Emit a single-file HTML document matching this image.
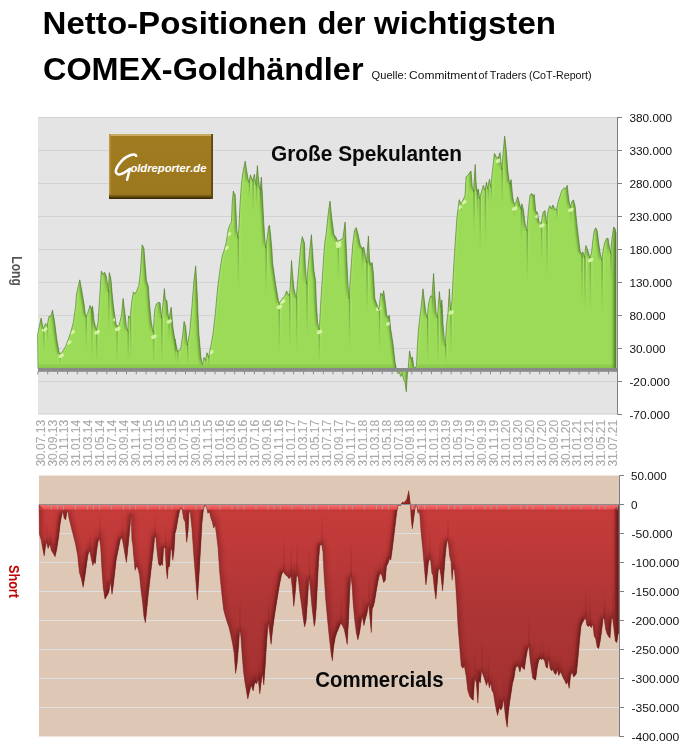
<!DOCTYPE html>
<html><head><meta charset="utf-8"><title>Netto-Positionen der wichtigsten COMEX-Goldhändler</title>
<style>
html,body{margin:0;padding:0;background:#fff;}
body{width:691px;height:755px;overflow:hidden;position:relative;font-family:"Liberation Sans",sans-serif;}
svg{position:absolute;left:0;top:0;}
text{font-family:"Liberation Sans",sans-serif;font-kerning:none;}
.ga{opacity:0.999;}
.xl{font-size:12px;fill:#a9a9a9;stroke:#a9a9a9;stroke-width:0.1px;}
.yl{font-size:10.7px;fill:#111;}
.t1{font-size:30.5px;font-weight:bold;fill:#000;}
.sub{font-size:11.3px;fill:#111;}
.ct{font-size:21px;font-weight:bold;fill:#0a0a0a;}
</style></head><body>
<svg width="691" height="755" viewBox="0 0 691 755">
<defs>
<clipPath id="ctop"><path d="M38,368.8 L37.6,334.5 L41.1,318.1 L43.3,329.0 L45.5,323.6 L47.0,325.7 L49.2,315.9 L50.7,317.0 L52.5,310.0 L54.7,322.5 L56.9,340.0 L59.5,354.2 L62.3,352.0 L65.6,346.5 L68.9,337.8 L71.1,331.2 L73.3,322.5 L75.5,307.2 L76.5,294.0 L79.8,279.8 L82.0,291.9 L84.2,305.0 L85.7,317.0 L87.5,313.7 L90.1,305.4 L91.4,309.3 L92.5,306.1 L94.0,320.3 L96.2,330.1 L98.0,322.5 L99.5,300.6 L101.3,271.1 L103.2,274.4 L104.5,272.2 L106.1,275.5 L107.2,282.0 L108.3,291.9 L109.3,272.6 L110.9,278.7 L112.0,291.9 L113.3,305.0 L114.8,315.9 L116.6,326.8 L119.2,324.7 L121.4,315.9 L123.1,298.4 L124.7,311.5 L126.4,326.8 L127.7,331.2 L128.6,315.9 L130.1,318.1 L131.6,302.8 L133.4,291.9 L135.1,294.0 L136.7,290.8 L138.9,285.3 L140.4,272.2 L142.1,244.8 L143.9,248.1 L145.4,267.8 L146.5,280.9 L148.3,286.4 L149.8,307.2 L151.3,322.5 L153.1,332.3 L154.8,309.3 L156.4,303.9 L158.5,302.3 L160.1,302.8 L161.4,318.1 L162.9,305.0 L164.4,288.6 L165.3,299.5 L166.9,300.6 L168.4,318.1 L169.9,313.7 L171.2,307.2 L172.8,326.8 L174.9,340.0 L175.0,339.0 L177.4,351.2 L180.5,349.7 L182.6,336.0 L184.1,321.3 L185.7,326.8 L187.2,345.1 L189.6,332.9 L191.8,308.5 L193.9,281.1 L195.7,265.9 L197.0,290.2 L198.8,332.9 L200.9,357.3 L202.4,364.9 L204.0,357.3 L205.5,360.4 L207.0,352.7 L208.5,357.3 L211.0,345.1 L213.1,332.9 L215.2,314.6 L217.7,287.2 L220.1,268.9 L222.3,255.2 L224.3,249.9 L226.2,242.6 L228.2,229.4 L229.6,225.4 L231.5,222.1 L232.2,202.9 L233.3,191.0 L234.2,193.7 L235.1,194.3 L235.9,209.6 L236.8,229.4 L237.8,238.0 L238.8,229.4 L240.1,202.9 L241.5,183.1 L243.1,171.2 L245.2,161.2 L246.5,169.9 L247.8,177.8 L248.9,182.4 L249.7,178.5 L250.5,174.9 L251.5,177.8 L252.6,180.7 L253.6,177.1 L254.4,174.2 L255.2,179.8 L256.0,184.7 L256.7,175.1 L257.4,165.6 L258.1,175.1 L259.2,185.7 L260.0,189.0 L260.8,183.1 L261.3,177.1 L262.1,189.7 L262.9,205.6 L263.7,221.5 L264.6,236.0 L265.6,247.9 L267.3,237.4 L268.6,226.8 L269.5,225.2 L270.6,234.7 L271.9,249.9 L272.6,262.8 L275.6,284.1 L278.7,302.4 L280.0,302.2 L282.6,298.2 L284.6,296.2 L286.6,290.9 L287.9,293.6 L289.3,295.6 L290.3,285.6 L291.5,260.5 L292.6,275.0 L293.9,288.3 L296.2,298.2 L297.5,283.0 L299.2,263.1 L300.9,244.6 L302.3,236.6 L303.6,240.6 L304.5,243.2 L305.2,263.1 L306.5,283.6 L307.8,269.7 L309.8,249.9 L311.4,234.6 L312.5,249.9 L313.8,269.7 L315.5,280.3 L316.4,304.2 L317.7,322.7 L318.7,328.7 L319.7,322.7 L321.1,296.2 L322.4,276.4 L323.7,256.5 L325.0,240.6 L326.1,234.5 L328.4,212.3 L330.0,201.1 L331.7,217.8 L333.9,234.5 L335.9,237.3 L337.8,241.5 L340.0,240.1 L342.8,238.7 L345.1,222.0 L346.2,245.7 L347.8,281.8 L349.0,298.5 L350.6,273.5 L352.6,245.7 L354.5,230.4 L356.2,227.6 L358.1,234.5 L360.1,244.3 L361.8,248.4 L363.7,247.1 L365.1,254.0 L366.5,262.4 L368.4,235.9 L369.5,259.6 L370.7,265.1 L372.1,262.4 L373.4,273.5 L374.8,298.5 L376.8,304.1 L379.0,309.7 L380.7,293.0 L382.3,295.8 L383.7,290.7 L385.1,301.3 L386.8,315.2 L387.9,318.0 L389.3,315.2 L390.7,329.1 L392.9,343.1 L395.1,362.5 L396.5,369.5 L397.9,373.7 L399.3,372.3 L400.7,376.5 L402.1,373.7 L403.5,379.2 L404.9,382.0 L406.3,391.8 L407.4,373.7 L408.2,368.1 L409.6,350.9 L411.0,358.4 L412.4,357.0 L413.8,366.7 L415.2,368.1 L416.6,365.3 L417.4,345.8 L418.5,329.1 L420.8,309.7 L423.0,288.8 L424.4,301.3 L425.8,312.4 L427.2,318.0 L428.5,304.1 L430.5,295.8 L431.9,297.1 L433.6,273.5 L434.7,293.0 L436.1,312.4 L437.4,318.0 L439.4,291.6 L440.8,306.9 L441.9,299.9 L443.0,323.6 L444.4,340.3 L445.2,345.8 L446.6,323.6 L448.0,312.4 L449.4,288.8 L450.5,309.7 L451.9,301.3 L453.3,273.5 L455.0,245.7 L456.9,217.8 L459.2,199.7 L460.8,203.9 L462.5,201.1 L465.0,195.6 L466.1,176.7 L467.8,175.4 L469.3,173.0 L471.0,171.0 L472.2,186.5 L473.5,191.4 L475.2,164.4 L476.2,184.0 L477.1,191.4 L478.4,189.0 L479.6,198.8 L481.6,191.4 L483.3,185.3 L485.0,190.2 L486.5,182.1 L487.7,189.0 L489.4,179.1 L490.7,186.5 L492.4,171.7 L494.4,153.3 L496.3,157.0 L498.1,158.2 L500.0,152.6 L501.7,169.3 L503.2,152.1 L504.7,136.1 L506.2,149.6 L507.9,171.7 L509.6,184.0 L511.1,179.6 L512.6,196.3 L514.0,203.7 L516.0,202.5 L517.7,196.8 L519.5,203.7 L520.9,208.6 L521.9,203.7 L523.4,209.9 L525.1,223.4 L526.8,230.8 L528.3,211.1 L530.0,195.1 L531.8,193.4 L533.2,196.3 L534.2,194.4 L535.7,211.1 L537.4,212.3 L539.1,222.2 L541.1,223.4 L543.1,212.3 L545.0,210.6 L546.5,223.4 L548.0,211.1 L549.7,205.7 L551.4,208.6 L552.9,205.0 L554.6,208.6 L556.4,209.9 L558.3,201.3 L560.3,195.1 L562.0,190.2 L564.5,187.7 L565.7,189.0 L567.2,185.3 L568.7,198.8 L570.1,207.4 L571.9,201.3 L573.6,200.0 L575.1,206.2 L576.8,223.4 L578.5,238.2 L580.0,250.5 L581.5,254.2 L582.9,251.7 L584.4,257.9 L585.9,245.5 L587.9,250.5 L589.8,257.9 L591.5,252.9 L592.8,240.6 L594.2,230.8 L595.7,227.8 L597.2,230.8 L598.7,243.1 L600.2,252.9 L601.6,260.3 L603.1,250.5 L604.6,243.1 L606.3,238.7 L608.0,238.2 L609.5,248.0 L610.5,252.9 L612.0,238.2 L613.7,227.1 L614.9,228.3 L616.1,233.2 L616.0,233.2 L616.0,368.8 Z"/></clipPath>
<clipPath id="cbot"><path d="M39,504.5 L39.4,534.2 L41.1,539.7 L42.7,548.4 L44.2,556.1 L45.5,546.2 L46.6,541.9 L48.1,548.4 L49.9,544.0 L51.4,550.6 L52.9,552.8 L55.1,556.7 L56.9,548.4 L58.6,537.5 L60.1,524.4 L61.2,517.8 L62.8,511.2 L64.1,517.8 L65.6,520.0 L66.7,513.4 L67.8,510.1 L68.9,517.8 L71.1,526.5 L73.3,535.3 L75.5,544.0 L77.6,555.0 L79.4,572.5 L81.4,579.0 L83.1,587.3 L84.9,576.8 L86.4,565.9 L87.9,555.0 L89.7,550.6 L91.4,559.3 L92.9,565.5 L94.0,561.5 L95.3,563.7 L96.7,550.6 L98.0,541.9 L99.5,538.6 L100.6,546.2 L101.7,565.9 L103.2,587.8 L105.0,599.1 L107.2,595.4 L108.9,592.1 L110.4,581.2 L112.0,594.3 L113.3,585.6 L114.8,572.5 L116.3,559.3 L118.1,550.6 L120.3,539.7 L122.0,537.5 L123.6,546.2 L125.1,555.0 L126.4,562.6 L127.7,550.6 L129.0,537.5 L130.3,524.4 L131.2,513.4 L131.9,539.7 L132.7,544.0 L133.8,557.2 L135.1,570.3 L136.7,565.9 L137.8,568.1 L139.5,574.7 L141.0,590.0 L142.6,603.1 L143.9,616.2 L145.4,622.8 L147.0,607.4 L148.3,594.3 L149.8,581.2 L151.3,568.1 L153.1,552.8 L154.8,536.4 L155.9,537.5 L157.0,550.6 L158.5,563.7 L160.1,565.9 L161.4,563.7 L162.5,565.5 L163.6,548.4 L165.1,547.3 L166.2,568.1 L167.3,579.0 L168.4,565.9 L169.5,567.0 L170.6,550.6 L171.7,548.4 L172.8,560.4 L174.1,550.6 L175.0,533.7 L176.5,527.9 L177.9,519.1 L179.4,511.8 L180.8,507.5 L182.3,510.4 L183.7,519.1 L185.2,522.0 L186.7,542.4 L188.1,530.8 L189.0,513.3 L190.1,510.4 L191.9,527.9 L193.9,557.0 L196.0,583.2 L197.4,600.1 L198.9,577.4 L200.6,548.3 L202.1,522.0 L203.5,508.9 L205.0,505.1 L206.5,506.9 L207.9,513.3 L209.4,511.8 L210.8,517.7 L212.3,522.0 L213.7,527.9 L215.2,525.0 L216.7,536.6 L218.1,548.3 L219.6,571.6 L221.6,591.9 L223.6,609.4 L225.1,615.2 L226.8,621.1 L228.9,626.9 L230.9,635.6 L232.7,644.4 L234.1,653.1 L235.6,673.5 L237.0,664.8 L238.5,647.3 L239.7,629.8 L240.8,635.6 L242.0,653.1 L243.4,670.6 L244.9,682.2 L246.4,691.0 L247.8,699.1 L249.6,691.0 L251.3,685.1 L253.1,691.0 L254.8,682.2 L256.6,683.7 L258.3,679.3 L259.8,693.9 L261.2,682.2 L262.4,673.5 L263.8,685.1 L265.3,664.8 L266.7,641.5 L268.2,622.5 L269.7,632.7 L271.1,644.4 L272.6,629.8 L274.6,615.2 L276.9,600.7 L279.3,586.1 L281.6,574.5 L283.3,571.6 L285.1,574.5 L287.1,575.9 L289.2,578.8 L290.9,575.9 L292.4,589.0 L293.8,606.5 L295.3,591.9 L296.7,574.5 L298.2,577.4 L299.7,591.9 L301.7,606.5 L303.2,618.2 L304.6,626.9 L306.1,621.1 L307.5,600.7 L309.0,577.4 L310.4,589.0 L311.9,606.5 L313.3,618.2 L314.2,626.3 L315.0,623.1 L316.2,608.8 L317.4,584.9 L318.6,561.1 L319.8,545.6 L321.7,544.4 L322.9,551.5 L324.1,575.4 L325.7,599.2 L327.4,618.3 L329.3,637.4 L331.2,654.1 L332.4,660.8 L333.6,646.9 L335.3,637.4 L336.9,632.6 L338.8,627.9 L340.8,623.1 L342.4,625.5 L344.1,629.0 L346.0,637.4 L347.2,644.5 L348.4,623.1 L349.6,594.5 L350.8,575.4 L352.0,584.9 L353.2,604.0 L354.8,620.7 L356.3,632.6 L357.9,639.8 L359.6,632.6 L361.0,623.1 L362.2,615.9 L363.9,625.5 L365.6,618.3 L367.0,613.5 L368.7,604.0 L369.8,615.9 L371.3,632.6 L372.2,608.8 L373.4,606.4 L374.6,601.6 L376.5,589.7 L378.2,580.2 L379.9,573.0 L381.8,575.4 L383.7,582.5 L385.3,580.2 L386.5,565.9 L388.0,563.5 L389.4,558.7 L390.8,559.9 L392.0,551.5 L393.2,542.0 L394.9,527.7 L396.6,513.4 L397.8,506.2 L398.9,505.0 L400.4,505.8 L401.3,503.8 L402.5,501.9 L403.7,502.7 L405.1,501.5 L406.8,499.1 L408.0,494.3 L408.7,490.7 L409.7,499.1 L410.4,504.3 L411.1,518.2 L412.3,528.9 L413.5,520.5 L414.7,511.0 L415.6,505.0 L416.8,506.2 L418.0,513.4 L419.0,509.8 L419.9,515.8 L421.1,532.5 L422.8,549.2 L424.2,565.9 L425.9,584.9 L427.1,575.4 L428.3,563.5 L429.5,558.7 L430.7,561.1 L431.9,573.0 L433.0,575.4 L434.2,587.3 L435.9,599.2 L437.1,584.9 L438.3,570.6 L439.7,568.2 L440.9,575.4 L442.6,590.9 L443.8,575.4 L445.0,558.7 L446.2,546.8 L447.4,539.6 L448.5,544.4 L449.7,556.3 L450.9,561.1 L452.1,580.2 L453.3,568.2 L454.5,570.6 L455.7,584.9 L456.9,604.0 L458.0,626.4 L459.4,643.6 L461.2,665.8 L462.9,668.2 L464.3,665.8 L466.1,675.6 L467.8,690.4 L469.8,696.5 L471.7,699.0 L473.2,700.2 L474.7,678.1 L476.4,683.0 L477.9,703.2 L478.9,680.5 L480.3,683.0 L481.6,670.7 L483.3,675.6 L485.0,680.5 L486.5,685.5 L488.0,680.5 L489.4,687.9 L490.9,683.0 L491.9,690.4 L493.4,692.9 L494.9,702.7 L496.3,710.1 L497.6,715.5 L499.3,707.6 L500.8,710.1 L502.2,707.6 L503.5,699.0 L504.7,710.1 L505.9,719.9 L507.2,727.3 L508.4,712.5 L509.6,702.7 L511.1,692.9 L512.6,683.0 L514.0,678.1 L515.5,668.2 L517.0,665.8 L518.5,667.0 L519.9,671.9 L521.4,665.8 L522.9,668.2 L524.4,669.5 L525.9,658.4 L527.3,651.0 L528.8,646.1 L530.0,658.4 L531.3,668.2 L532.7,678.1 L534.2,679.3 L535.7,680.1 L537.2,668.2 L538.6,660.9 L540.1,658.4 L541.6,659.6 L543.1,658.4 L544.6,660.9 L546.0,667.0 L547.5,668.2 L548.7,658.4 L550.0,668.2 L551.4,670.7 L552.9,669.5 L554.4,673.2 L555.9,674.4 L557.3,669.5 L558.8,675.6 L560.3,671.9 L561.8,674.4 L563.2,678.1 L564.7,680.5 L566.2,684.2 L567.7,681.8 L569.2,688.4 L570.6,675.6 L572.1,671.9 L573.6,676.9 L575.1,675.6 L576.5,673.2 L578.0,658.4 L579.5,641.2 L581.0,626.4 L582.4,622.7 L583.9,620.3 L585.4,617.8 L586.9,625.2 L588.3,626.4 L589.8,625.2 L591.3,627.7 L592.8,624.0 L594.2,636.3 L595.7,638.7 L597.2,647.3 L598.7,648.6 L600.2,641.2 L601.6,631.3 L603.1,619.0 L604.1,617.8 L605.6,628.9 L607.0,633.8 L608.5,636.3 L610.0,638.2 L611.5,619.0 L612.5,617.8 L613.9,628.9 L615.4,641.2 L616.9,642.4 L617.9,633.8 L618.5,633.8 L618.5,504.5 Z"/></clipPath>
<filter id="b0" x="-5%" y="-5%" width="110%" height="110%"><feGaussianBlur stdDeviation="0.9"/></filter>
<filter id="bc" x="-2%" y="-2%" width="104%" height="104%"><feGaussianBlur stdDeviation="0.55 0.3"/></filter>
<filter id="bh" x="-2%" y="-2%" width="104%" height="104%"><feGaussianBlur stdDeviation="0.65"/></filter>
<filter id="b1" x="-5%" y="-5%" width="110%" height="110%"><feGaussianBlur stdDeviation="1.3"/></filter>
<filter id="b2" x="-5%" y="-5%" width="110%" height="110%"><feGaussianBlur stdDeviation="2"/></filter>
<linearGradient id="gred" x1="0" y1="0" x2="0" y2="1">
<stop offset="0" stop-color="#c93d3b"/><stop offset="0.22" stop-color="#bf3a39"/><stop offset="0.5" stop-color="#ae3535"/><stop offset="0.75" stop-color="#a73232"/><stop offset="1" stop-color="#a13030"/></linearGradient>
<linearGradient id="gredtop" x1="0" y1="0" x2="0" y2="1">
<stop offset="0" stop-color="#f57070"/><stop offset="1" stop-color="#e24c4c"/></linearGradient>
<linearGradient id="crT" x1="0" y1="0" x2="0" y2="1"><stop offset="0" stop-color="#4f7d2b" stop-opacity="0.6"/><stop offset="1" stop-color="#6fa83f" stop-opacity="0"/></linearGradient>
<linearGradient id="crTl" x1="0" y1="0" x2="0" y2="1"><stop offset="0" stop-color="#b9ee80" stop-opacity="0.55"/><stop offset="1" stop-color="#b9ee80" stop-opacity="0"/></linearGradient>
<linearGradient id="crB" x1="0" y1="1" x2="0" y2="0"><stop offset="0" stop-color="#6a1a1a" stop-opacity="0.4"/><stop offset="1" stop-color="#8a2626" stop-opacity="0"/></linearGradient>
<linearGradient id="redge" x1="0" y1="0" x2="1" y2="0"><stop offset="0" stop-color="#4f7d2b" stop-opacity="0"/><stop offset="1" stop-color="#4f7d2b" stop-opacity="0.7"/></linearGradient>
<linearGradient id="redgeB" x1="0" y1="0" x2="1" y2="0"><stop offset="0" stop-color="#5a1414" stop-opacity="0"/><stop offset="1" stop-color="#5a1414" stop-opacity="0.75"/></linearGradient>
<linearGradient id="glogob" x1="0" y1="0" x2="0" y2="1"><stop offset="0" stop-color="#9b771d"/><stop offset="0.45" stop-color="#6a500f"/><stop offset="1" stop-color="#2e2003"/></linearGradient>
<linearGradient id="glogo" x1="0" y1="0" x2="0" y2="1">
<stop offset="0" stop-color="#a17c21"/><stop offset="1" stop-color="#9b771d"/></linearGradient>
</defs>
<rect width="691" height="755" fill="#fff"/>

<!-- title -->
<g class="ga">
<text x="42.6" y="34" class="t1" textLength="264.5" lengthAdjust="spacingAndGlyphs">Netto-Positionen</text>
<text x="317.5" y="34" class="t1" textLength="48" lengthAdjust="spacingAndGlyphs">der</text>
<text x="374" y="34" class="t1" textLength="182" lengthAdjust="spacingAndGlyphs">wichtigsten</text>
<text x="43" y="80.3" class="t1" textLength="320.5" lengthAdjust="spacingAndGlyphs">COMEX-Goldhändler</text>
<text x="371.6" y="78.7" class="sub" textLength="35.2" lengthAdjust="spacingAndGlyphs">Quelle:</text>
<text x="409.1" y="78.7" class="sub" textLength="67.9" lengthAdjust="spacingAndGlyphs">Commitment</text>
<text x="478.5" y="78.7" class="sub" textLength="8.9" lengthAdjust="spacingAndGlyphs">of</text>
<text x="489.7" y="78.7" class="sub" textLength="36.9" lengthAdjust="spacingAndGlyphs">Traders</text>
<text x="528.9" y="78.7" class="sub" textLength="62.7" lengthAdjust="spacingAndGlyphs">(CoT-Report)</text>


</g>
<!-- top plot -->
<rect x="38" y="117" width="579.5" height="297" fill="#e4e4e4"/>
<line x1="38" x2="617" y1="117.5" y2="117.5" stroke="#d3d3d3"/>
<line x1="38" x2="617" y1="414" y2="414" stroke="#d0d0d0"/>
<line x1="38" x2="617" y1="150.5" y2="150.5" stroke="#d3d3d3" stroke-width="1"/>
<line x1="38" x2="617" y1="183.5" y2="183.5" stroke="#d3d3d3" stroke-width="1"/>
<line x1="38" x2="617" y1="216.5" y2="216.5" stroke="#d3d3d3" stroke-width="1"/>
<line x1="38" x2="617" y1="249.5" y2="249.5" stroke="#d3d3d3" stroke-width="1"/>
<line x1="38" x2="617" y1="282.5" y2="282.5" stroke="#d3d3d3" stroke-width="1"/>
<line x1="38" x2="617" y1="315.5" y2="315.5" stroke="#d3d3d3" stroke-width="1"/>
<line x1="38" x2="617" y1="348.5" y2="348.5" stroke="#d3d3d3" stroke-width="1"/>
<line x1="38" x2="617" y1="381.5" y2="381.5" stroke="#d3d3d3" stroke-width="1"/>

<path d="M38,368.8 L37.6,334.5 L41.1,318.1 L43.3,329.0 L45.5,323.6 L47.0,325.7 L49.2,315.9 L50.7,317.0 L52.5,310.0 L54.7,322.5 L56.9,340.0 L59.5,354.2 L62.3,352.0 L65.6,346.5 L68.9,337.8 L71.1,331.2 L73.3,322.5 L75.5,307.2 L76.5,294.0 L79.8,279.8 L82.0,291.9 L84.2,305.0 L85.7,317.0 L87.5,313.7 L90.1,305.4 L91.4,309.3 L92.5,306.1 L94.0,320.3 L96.2,330.1 L98.0,322.5 L99.5,300.6 L101.3,271.1 L103.2,274.4 L104.5,272.2 L106.1,275.5 L107.2,282.0 L108.3,291.9 L109.3,272.6 L110.9,278.7 L112.0,291.9 L113.3,305.0 L114.8,315.9 L116.6,326.8 L119.2,324.7 L121.4,315.9 L123.1,298.4 L124.7,311.5 L126.4,326.8 L127.7,331.2 L128.6,315.9 L130.1,318.1 L131.6,302.8 L133.4,291.9 L135.1,294.0 L136.7,290.8 L138.9,285.3 L140.4,272.2 L142.1,244.8 L143.9,248.1 L145.4,267.8 L146.5,280.9 L148.3,286.4 L149.8,307.2 L151.3,322.5 L153.1,332.3 L154.8,309.3 L156.4,303.9 L158.5,302.3 L160.1,302.8 L161.4,318.1 L162.9,305.0 L164.4,288.6 L165.3,299.5 L166.9,300.6 L168.4,318.1 L169.9,313.7 L171.2,307.2 L172.8,326.8 L174.9,340.0 L175.0,339.0 L177.4,351.2 L180.5,349.7 L182.6,336.0 L184.1,321.3 L185.7,326.8 L187.2,345.1 L189.6,332.9 L191.8,308.5 L193.9,281.1 L195.7,265.9 L197.0,290.2 L198.8,332.9 L200.9,357.3 L202.4,364.9 L204.0,357.3 L205.5,360.4 L207.0,352.7 L208.5,357.3 L211.0,345.1 L213.1,332.9 L215.2,314.6 L217.7,287.2 L220.1,268.9 L222.3,255.2 L224.3,249.9 L226.2,242.6 L228.2,229.4 L229.6,225.4 L231.5,222.1 L232.2,202.9 L233.3,191.0 L234.2,193.7 L235.1,194.3 L235.9,209.6 L236.8,229.4 L237.8,238.0 L238.8,229.4 L240.1,202.9 L241.5,183.1 L243.1,171.2 L245.2,161.2 L246.5,169.9 L247.8,177.8 L248.9,182.4 L249.7,178.5 L250.5,174.9 L251.5,177.8 L252.6,180.7 L253.6,177.1 L254.4,174.2 L255.2,179.8 L256.0,184.7 L256.7,175.1 L257.4,165.6 L258.1,175.1 L259.2,185.7 L260.0,189.0 L260.8,183.1 L261.3,177.1 L262.1,189.7 L262.9,205.6 L263.7,221.5 L264.6,236.0 L265.6,247.9 L267.3,237.4 L268.6,226.8 L269.5,225.2 L270.6,234.7 L271.9,249.9 L272.6,262.8 L275.6,284.1 L278.7,302.4 L280.0,302.2 L282.6,298.2 L284.6,296.2 L286.6,290.9 L287.9,293.6 L289.3,295.6 L290.3,285.6 L291.5,260.5 L292.6,275.0 L293.9,288.3 L296.2,298.2 L297.5,283.0 L299.2,263.1 L300.9,244.6 L302.3,236.6 L303.6,240.6 L304.5,243.2 L305.2,263.1 L306.5,283.6 L307.8,269.7 L309.8,249.9 L311.4,234.6 L312.5,249.9 L313.8,269.7 L315.5,280.3 L316.4,304.2 L317.7,322.7 L318.7,328.7 L319.7,322.7 L321.1,296.2 L322.4,276.4 L323.7,256.5 L325.0,240.6 L326.1,234.5 L328.4,212.3 L330.0,201.1 L331.7,217.8 L333.9,234.5 L335.9,237.3 L337.8,241.5 L340.0,240.1 L342.8,238.7 L345.1,222.0 L346.2,245.7 L347.8,281.8 L349.0,298.5 L350.6,273.5 L352.6,245.7 L354.5,230.4 L356.2,227.6 L358.1,234.5 L360.1,244.3 L361.8,248.4 L363.7,247.1 L365.1,254.0 L366.5,262.4 L368.4,235.9 L369.5,259.6 L370.7,265.1 L372.1,262.4 L373.4,273.5 L374.8,298.5 L376.8,304.1 L379.0,309.7 L380.7,293.0 L382.3,295.8 L383.7,290.7 L385.1,301.3 L386.8,315.2 L387.9,318.0 L389.3,315.2 L390.7,329.1 L392.9,343.1 L395.1,362.5 L396.5,369.5 L397.9,373.7 L399.3,372.3 L400.7,376.5 L402.1,373.7 L403.5,379.2 L404.9,382.0 L406.3,391.8 L407.4,373.7 L408.2,368.1 L409.6,350.9 L411.0,358.4 L412.4,357.0 L413.8,366.7 L415.2,368.1 L416.6,365.3 L417.4,345.8 L418.5,329.1 L420.8,309.7 L423.0,288.8 L424.4,301.3 L425.8,312.4 L427.2,318.0 L428.5,304.1 L430.5,295.8 L431.9,297.1 L433.6,273.5 L434.7,293.0 L436.1,312.4 L437.4,318.0 L439.4,291.6 L440.8,306.9 L441.9,299.9 L443.0,323.6 L444.4,340.3 L445.2,345.8 L446.6,323.6 L448.0,312.4 L449.4,288.8 L450.5,309.7 L451.9,301.3 L453.3,273.5 L455.0,245.7 L456.9,217.8 L459.2,199.7 L460.8,203.9 L462.5,201.1 L465.0,195.6 L466.1,176.7 L467.8,175.4 L469.3,173.0 L471.0,171.0 L472.2,186.5 L473.5,191.4 L475.2,164.4 L476.2,184.0 L477.1,191.4 L478.4,189.0 L479.6,198.8 L481.6,191.4 L483.3,185.3 L485.0,190.2 L486.5,182.1 L487.7,189.0 L489.4,179.1 L490.7,186.5 L492.4,171.7 L494.4,153.3 L496.3,157.0 L498.1,158.2 L500.0,152.6 L501.7,169.3 L503.2,152.1 L504.7,136.1 L506.2,149.6 L507.9,171.7 L509.6,184.0 L511.1,179.6 L512.6,196.3 L514.0,203.7 L516.0,202.5 L517.7,196.8 L519.5,203.7 L520.9,208.6 L521.9,203.7 L523.4,209.9 L525.1,223.4 L526.8,230.8 L528.3,211.1 L530.0,195.1 L531.8,193.4 L533.2,196.3 L534.2,194.4 L535.7,211.1 L537.4,212.3 L539.1,222.2 L541.1,223.4 L543.1,212.3 L545.0,210.6 L546.5,223.4 L548.0,211.1 L549.7,205.7 L551.4,208.6 L552.9,205.0 L554.6,208.6 L556.4,209.9 L558.3,201.3 L560.3,195.1 L562.0,190.2 L564.5,187.7 L565.7,189.0 L567.2,185.3 L568.7,198.8 L570.1,207.4 L571.9,201.3 L573.6,200.0 L575.1,206.2 L576.8,223.4 L578.5,238.2 L580.0,250.5 L581.5,254.2 L582.9,251.7 L584.4,257.9 L585.9,245.5 L587.9,250.5 L589.8,257.9 L591.5,252.9 L592.8,240.6 L594.2,230.8 L595.7,227.8 L597.2,230.8 L598.7,243.1 L600.2,252.9 L601.6,260.3 L603.1,250.5 L604.6,243.1 L606.3,238.7 L608.0,238.2 L609.5,248.0 L610.5,252.9 L612.0,238.2 L613.7,227.1 L614.9,228.3 L616.1,233.2 L616.0,233.2 L616.0,368.8 Z" fill="#9cdb58"/>
<g clip-path="url(#ctop)">
<g filter="url(#bc)">
<rect x="43.1" y="328.0" width="1.7" height="24.0" fill="url(#crT)"/>
<rect x="44.4" y="328.0" width="1.6" height="19.2" fill="url(#crTl)"/>
<rect x="46.8" y="324.7" width="1.7" height="16.7" fill="url(#crT)"/>
<rect x="48.1" y="324.7" width="1.6" height="13.4" fill="url(#crTl)"/>
<rect x="59.3" y="353.2" width="1.7" height="11.8" fill="url(#crT)"/>
<rect x="60.6" y="353.2" width="1.6" height="9.4" fill="url(#crTl)"/>
<rect x="85.5" y="316.0" width="1.7" height="36.1" fill="url(#crT)"/>
<rect x="86.8" y="316.0" width="1.6" height="28.9" fill="url(#crTl)"/>
<rect x="91.2" y="308.3" width="1.7" height="55.0" fill="url(#crT)"/>
<rect x="92.5" y="308.3" width="1.6" height="44.0" fill="url(#crTl)"/>
<rect x="96.0" y="329.1" width="1.7" height="35.9" fill="url(#crT)"/>
<rect x="97.3" y="329.1" width="1.6" height="28.7" fill="url(#crTl)"/>
<rect x="108.1" y="290.9" width="1.7" height="42.5" fill="url(#crT)"/>
<rect x="109.4" y="290.9" width="1.6" height="34.0" fill="url(#crTl)"/>
<rect x="116.4" y="325.8" width="1.7" height="39.2" fill="url(#crT)"/>
<rect x="117.7" y="325.8" width="1.6" height="31.4" fill="url(#crTl)"/>
<rect x="127.5" y="330.2" width="1.7" height="34.8" fill="url(#crT)"/>
<rect x="128.8" y="330.2" width="1.6" height="27.8" fill="url(#crTl)"/>
<rect x="129.9" y="317.1" width="1.7" height="43.3" fill="url(#crT)"/>
<rect x="131.2" y="317.1" width="1.6" height="34.7" fill="url(#crTl)"/>
<rect x="152.9" y="331.3" width="1.7" height="33.7" fill="url(#crT)"/>
<rect x="154.2" y="331.3" width="1.6" height="27.0" fill="url(#crTl)"/>
<rect x="161.2" y="317.1" width="1.7" height="47.9" fill="url(#crT)"/>
<rect x="162.5" y="317.1" width="1.6" height="38.3" fill="url(#crTl)"/>
<rect x="168.2" y="317.1" width="1.7" height="24.0" fill="url(#crT)"/>
<rect x="169.5" y="317.1" width="1.6" height="19.2" fill="url(#crTl)"/>
<rect x="174.7" y="339.0" width="1.7" height="26.0" fill="url(#crT)"/>
<rect x="176.0" y="339.0" width="1.6" height="20.8" fill="url(#crTl)"/>
<rect x="177.2" y="350.2" width="1.7" height="14.8" fill="url(#crT)"/>
<rect x="178.5" y="350.2" width="1.6" height="11.8" fill="url(#crTl)"/>
<rect x="187.0" y="344.1" width="1.7" height="20.9" fill="url(#crT)"/>
<rect x="188.3" y="344.1" width="1.6" height="16.7" fill="url(#crTl)"/>
<rect x="205.3" y="359.4" width="1.7" height="5.6" fill="url(#crT)"/>
<rect x="206.6" y="359.4" width="1.6" height="4.5" fill="url(#crTl)"/>
<rect x="208.3" y="356.3" width="1.7" height="8.7" fill="url(#crT)"/>
<rect x="209.6" y="356.3" width="1.6" height="7.0" fill="url(#crTl)"/>
<rect x="237.6" y="237.0" width="1.7" height="55.0" fill="url(#crT)"/>
<rect x="238.9" y="237.0" width="1.6" height="44.0" fill="url(#crTl)"/>
<rect x="248.7" y="181.4" width="1.7" height="18.0" fill="url(#crT)"/>
<rect x="250.0" y="181.4" width="1.6" height="14.4" fill="url(#crTl)"/>
<rect x="252.4" y="179.7" width="1.7" height="33.2" fill="url(#crT)"/>
<rect x="253.7" y="179.7" width="1.6" height="26.6" fill="url(#crTl)"/>
<rect x="255.8" y="183.7" width="1.7" height="23.1" fill="url(#crT)"/>
<rect x="257.1" y="183.7" width="1.6" height="18.5" fill="url(#crTl)"/>
<rect x="259.8" y="188.0" width="1.7" height="26.2" fill="url(#crT)"/>
<rect x="261.1" y="188.0" width="1.6" height="20.9" fill="url(#crTl)"/>
<rect x="265.4" y="246.9" width="1.7" height="49.9" fill="url(#crT)"/>
<rect x="266.7" y="246.9" width="1.6" height="40.0" fill="url(#crTl)"/>
<rect x="278.5" y="301.4" width="1.7" height="55.0" fill="url(#crT)"/>
<rect x="279.8" y="301.4" width="1.6" height="44.0" fill="url(#crTl)"/>
<rect x="289.1" y="294.6" width="1.7" height="55.0" fill="url(#crT)"/>
<rect x="290.4" y="294.6" width="1.6" height="44.0" fill="url(#crTl)"/>
<rect x="296.0" y="297.2" width="1.7" height="55.0" fill="url(#crT)"/>
<rect x="297.3" y="297.2" width="1.6" height="44.0" fill="url(#crTl)"/>
<rect x="306.3" y="282.6" width="1.7" height="55.0" fill="url(#crT)"/>
<rect x="307.6" y="282.6" width="1.6" height="44.0" fill="url(#crTl)"/>
<rect x="318.5" y="327.7" width="1.7" height="37.3" fill="url(#crT)"/>
<rect x="319.8" y="327.7" width="1.6" height="29.8" fill="url(#crTl)"/>
<rect x="337.6" y="240.5" width="1.7" height="42.9" fill="url(#crT)"/>
<rect x="338.9" y="240.5" width="1.6" height="34.3" fill="url(#crTl)"/>
<rect x="348.8" y="297.5" width="1.7" height="55.0" fill="url(#crT)"/>
<rect x="350.1" y="297.5" width="1.6" height="44.0" fill="url(#crTl)"/>
<rect x="361.6" y="247.4" width="1.7" height="27.5" fill="url(#crT)"/>
<rect x="362.9" y="247.4" width="1.6" height="22.0" fill="url(#crTl)"/>
<rect x="366.3" y="261.4" width="1.7" height="55.0" fill="url(#crT)"/>
<rect x="367.6" y="261.4" width="1.6" height="44.0" fill="url(#crTl)"/>
<rect x="378.8" y="308.7" width="1.7" height="41.8" fill="url(#crT)"/>
<rect x="380.1" y="308.7" width="1.6" height="33.4" fill="url(#crTl)"/>
<rect x="382.1" y="294.8" width="1.7" height="11.2" fill="url(#crT)"/>
<rect x="383.4" y="294.8" width="1.6" height="9.0" fill="url(#crTl)"/>
<rect x="410.8" y="357.4" width="1.7" height="7.6" fill="url(#crT)"/>
<rect x="412.1" y="357.4" width="1.6" height="6.1" fill="url(#crTl)"/>
<rect x="427.0" y="317.0" width="1.7" height="48.0" fill="url(#crT)"/>
<rect x="428.3" y="317.0" width="1.6" height="38.4" fill="url(#crTl)"/>
<rect x="431.7" y="296.1" width="1.7" height="18.3" fill="url(#crT)"/>
<rect x="433.0" y="296.1" width="1.6" height="14.6" fill="url(#crTl)"/>
<rect x="437.2" y="317.0" width="1.7" height="48.0" fill="url(#crT)"/>
<rect x="438.5" y="317.0" width="1.6" height="38.4" fill="url(#crTl)"/>
<rect x="440.6" y="305.9" width="1.7" height="39.8" fill="url(#crT)"/>
<rect x="441.9" y="305.9" width="1.6" height="31.9" fill="url(#crTl)"/>
<rect x="445.0" y="344.8" width="1.7" height="20.2" fill="url(#crT)"/>
<rect x="446.3" y="344.8" width="1.6" height="16.2" fill="url(#crTl)"/>
<rect x="450.3" y="308.7" width="1.7" height="46.0" fill="url(#crT)"/>
<rect x="451.6" y="308.7" width="1.6" height="36.8" fill="url(#crTl)"/>
<rect x="460.6" y="202.9" width="1.7" height="10.0" fill="url(#crT)"/>
<rect x="461.9" y="202.9" width="1.6" height="8.0" fill="url(#crTl)"/>
<rect x="473.3" y="190.4" width="1.7" height="44.9" fill="url(#crT)"/>
<rect x="474.6" y="190.4" width="1.6" height="35.9" fill="url(#crTl)"/>
<rect x="476.9" y="190.4" width="1.7" height="27.1" fill="url(#crT)"/>
<rect x="478.2" y="190.4" width="1.6" height="21.6" fill="url(#crTl)"/>
<rect x="479.4" y="197.8" width="1.7" height="55.0" fill="url(#crT)"/>
<rect x="480.7" y="197.8" width="1.6" height="44.0" fill="url(#crTl)"/>
<rect x="484.8" y="189.2" width="1.7" height="55.0" fill="url(#crT)"/>
<rect x="486.1" y="189.2" width="1.6" height="44.0" fill="url(#crTl)"/>
<rect x="487.5" y="188.0" width="1.7" height="15.2" fill="url(#crT)"/>
<rect x="488.8" y="188.0" width="1.6" height="12.1" fill="url(#crTl)"/>
<rect x="490.5" y="185.5" width="1.7" height="16.3" fill="url(#crT)"/>
<rect x="491.8" y="185.5" width="1.6" height="13.0" fill="url(#crTl)"/>
<rect x="497.9" y="157.2" width="1.7" height="10.8" fill="url(#crT)"/>
<rect x="499.2" y="157.2" width="1.6" height="8.6" fill="url(#crTl)"/>
<rect x="501.5" y="168.3" width="1.7" height="36.7" fill="url(#crT)"/>
<rect x="502.8" y="168.3" width="1.6" height="29.4" fill="url(#crTl)"/>
<rect x="509.4" y="183.0" width="1.7" height="10.0" fill="url(#crT)"/>
<rect x="510.7" y="183.0" width="1.6" height="8.0" fill="url(#crTl)"/>
<rect x="513.8" y="202.7" width="1.7" height="15.2" fill="url(#crT)"/>
<rect x="515.1" y="202.7" width="1.6" height="12.1" fill="url(#crTl)"/>
<rect x="520.7" y="207.6" width="1.7" height="33.4" fill="url(#crT)"/>
<rect x="522.0" y="207.6" width="1.6" height="26.8" fill="url(#crTl)"/>
<rect x="526.6" y="229.8" width="1.7" height="55.0" fill="url(#crT)"/>
<rect x="527.9" y="229.8" width="1.6" height="44.0" fill="url(#crTl)"/>
<rect x="540.9" y="222.4" width="1.7" height="40.5" fill="url(#crT)"/>
<rect x="542.2" y="222.4" width="1.6" height="32.4" fill="url(#crTl)"/>
<rect x="546.3" y="222.4" width="1.7" height="55.0" fill="url(#crT)"/>
<rect x="547.6" y="222.4" width="1.6" height="44.0" fill="url(#crTl)"/>
<rect x="556.2" y="208.9" width="1.7" height="10.8" fill="url(#crT)"/>
<rect x="557.5" y="208.9" width="1.6" height="8.6" fill="url(#crTl)"/>
<rect x="569.9" y="206.4" width="1.7" height="16.3" fill="url(#crT)"/>
<rect x="571.2" y="206.4" width="1.6" height="13.0" fill="url(#crTl)"/>
<rect x="581.3" y="253.2" width="1.7" height="51.5" fill="url(#crT)"/>
<rect x="582.6" y="253.2" width="1.6" height="41.2" fill="url(#crTl)"/>
<rect x="584.2" y="256.9" width="1.7" height="55.0" fill="url(#crT)"/>
<rect x="585.5" y="256.9" width="1.6" height="44.0" fill="url(#crTl)"/>
<rect x="589.6" y="256.9" width="1.7" height="55.0" fill="url(#crT)"/>
<rect x="590.9" y="256.9" width="1.6" height="44.0" fill="url(#crTl)"/>
<rect x="601.4" y="259.3" width="1.7" height="55.0" fill="url(#crT)"/>
<rect x="602.7" y="259.3" width="1.6" height="44.0" fill="url(#crTl)"/>
<rect x="610.3" y="251.9" width="1.7" height="32.3" fill="url(#crT)"/>
<rect x="611.6" y="251.9" width="1.6" height="25.9" fill="url(#crTl)"/>
</g>
<rect x="611" y="117" width="5.2" height="252" fill="url(#redge)"/>
<path d="M-20,-20 H720 V780 H-20 Z M38,368.8 L37.6,334.5 L41.1,318.1 L43.3,329.0 L45.5,323.6 L47.0,325.7 L49.2,315.9 L50.7,317.0 L52.5,310.0 L54.7,322.5 L56.9,340.0 L59.5,354.2 L62.3,352.0 L65.6,346.5 L68.9,337.8 L71.1,331.2 L73.3,322.5 L75.5,307.2 L76.5,294.0 L79.8,279.8 L82.0,291.9 L84.2,305.0 L85.7,317.0 L87.5,313.7 L90.1,305.4 L91.4,309.3 L92.5,306.1 L94.0,320.3 L96.2,330.1 L98.0,322.5 L99.5,300.6 L101.3,271.1 L103.2,274.4 L104.5,272.2 L106.1,275.5 L107.2,282.0 L108.3,291.9 L109.3,272.6 L110.9,278.7 L112.0,291.9 L113.3,305.0 L114.8,315.9 L116.6,326.8 L119.2,324.7 L121.4,315.9 L123.1,298.4 L124.7,311.5 L126.4,326.8 L127.7,331.2 L128.6,315.9 L130.1,318.1 L131.6,302.8 L133.4,291.9 L135.1,294.0 L136.7,290.8 L138.9,285.3 L140.4,272.2 L142.1,244.8 L143.9,248.1 L145.4,267.8 L146.5,280.9 L148.3,286.4 L149.8,307.2 L151.3,322.5 L153.1,332.3 L154.8,309.3 L156.4,303.9 L158.5,302.3 L160.1,302.8 L161.4,318.1 L162.9,305.0 L164.4,288.6 L165.3,299.5 L166.9,300.6 L168.4,318.1 L169.9,313.7 L171.2,307.2 L172.8,326.8 L174.9,340.0 L175.0,339.0 L177.4,351.2 L180.5,349.7 L182.6,336.0 L184.1,321.3 L185.7,326.8 L187.2,345.1 L189.6,332.9 L191.8,308.5 L193.9,281.1 L195.7,265.9 L197.0,290.2 L198.8,332.9 L200.9,357.3 L202.4,364.9 L204.0,357.3 L205.5,360.4 L207.0,352.7 L208.5,357.3 L211.0,345.1 L213.1,332.9 L215.2,314.6 L217.7,287.2 L220.1,268.9 L222.3,255.2 L224.3,249.9 L226.2,242.6 L228.2,229.4 L229.6,225.4 L231.5,222.1 L232.2,202.9 L233.3,191.0 L234.2,193.7 L235.1,194.3 L235.9,209.6 L236.8,229.4 L237.8,238.0 L238.8,229.4 L240.1,202.9 L241.5,183.1 L243.1,171.2 L245.2,161.2 L246.5,169.9 L247.8,177.8 L248.9,182.4 L249.7,178.5 L250.5,174.9 L251.5,177.8 L252.6,180.7 L253.6,177.1 L254.4,174.2 L255.2,179.8 L256.0,184.7 L256.7,175.1 L257.4,165.6 L258.1,175.1 L259.2,185.7 L260.0,189.0 L260.8,183.1 L261.3,177.1 L262.1,189.7 L262.9,205.6 L263.7,221.5 L264.6,236.0 L265.6,247.9 L267.3,237.4 L268.6,226.8 L269.5,225.2 L270.6,234.7 L271.9,249.9 L272.6,262.8 L275.6,284.1 L278.7,302.4 L280.0,302.2 L282.6,298.2 L284.6,296.2 L286.6,290.9 L287.9,293.6 L289.3,295.6 L290.3,285.6 L291.5,260.5 L292.6,275.0 L293.9,288.3 L296.2,298.2 L297.5,283.0 L299.2,263.1 L300.9,244.6 L302.3,236.6 L303.6,240.6 L304.5,243.2 L305.2,263.1 L306.5,283.6 L307.8,269.7 L309.8,249.9 L311.4,234.6 L312.5,249.9 L313.8,269.7 L315.5,280.3 L316.4,304.2 L317.7,322.7 L318.7,328.7 L319.7,322.7 L321.1,296.2 L322.4,276.4 L323.7,256.5 L325.0,240.6 L326.1,234.5 L328.4,212.3 L330.0,201.1 L331.7,217.8 L333.9,234.5 L335.9,237.3 L337.8,241.5 L340.0,240.1 L342.8,238.7 L345.1,222.0 L346.2,245.7 L347.8,281.8 L349.0,298.5 L350.6,273.5 L352.6,245.7 L354.5,230.4 L356.2,227.6 L358.1,234.5 L360.1,244.3 L361.8,248.4 L363.7,247.1 L365.1,254.0 L366.5,262.4 L368.4,235.9 L369.5,259.6 L370.7,265.1 L372.1,262.4 L373.4,273.5 L374.8,298.5 L376.8,304.1 L379.0,309.7 L380.7,293.0 L382.3,295.8 L383.7,290.7 L385.1,301.3 L386.8,315.2 L387.9,318.0 L389.3,315.2 L390.7,329.1 L392.9,343.1 L395.1,362.5 L396.5,369.5 L397.9,373.7 L399.3,372.3 L400.7,376.5 L402.1,373.7 L403.5,379.2 L404.9,382.0 L406.3,391.8 L407.4,373.7 L408.2,368.1 L409.6,350.9 L411.0,358.4 L412.4,357.0 L413.8,366.7 L415.2,368.1 L416.6,365.3 L417.4,345.8 L418.5,329.1 L420.8,309.7 L423.0,288.8 L424.4,301.3 L425.8,312.4 L427.2,318.0 L428.5,304.1 L430.5,295.8 L431.9,297.1 L433.6,273.5 L434.7,293.0 L436.1,312.4 L437.4,318.0 L439.4,291.6 L440.8,306.9 L441.9,299.9 L443.0,323.6 L444.4,340.3 L445.2,345.8 L446.6,323.6 L448.0,312.4 L449.4,288.8 L450.5,309.7 L451.9,301.3 L453.3,273.5 L455.0,245.7 L456.9,217.8 L459.2,199.7 L460.8,203.9 L462.5,201.1 L465.0,195.6 L466.1,176.7 L467.8,175.4 L469.3,173.0 L471.0,171.0 L472.2,186.5 L473.5,191.4 L475.2,164.4 L476.2,184.0 L477.1,191.4 L478.4,189.0 L479.6,198.8 L481.6,191.4 L483.3,185.3 L485.0,190.2 L486.5,182.1 L487.7,189.0 L489.4,179.1 L490.7,186.5 L492.4,171.7 L494.4,153.3 L496.3,157.0 L498.1,158.2 L500.0,152.6 L501.7,169.3 L503.2,152.1 L504.7,136.1 L506.2,149.6 L507.9,171.7 L509.6,184.0 L511.1,179.6 L512.6,196.3 L514.0,203.7 L516.0,202.5 L517.7,196.8 L519.5,203.7 L520.9,208.6 L521.9,203.7 L523.4,209.9 L525.1,223.4 L526.8,230.8 L528.3,211.1 L530.0,195.1 L531.8,193.4 L533.2,196.3 L534.2,194.4 L535.7,211.1 L537.4,212.3 L539.1,222.2 L541.1,223.4 L543.1,212.3 L545.0,210.6 L546.5,223.4 L548.0,211.1 L549.7,205.7 L551.4,208.6 L552.9,205.0 L554.6,208.6 L556.4,209.9 L558.3,201.3 L560.3,195.1 L562.0,190.2 L564.5,187.7 L565.7,189.0 L567.2,185.3 L568.7,198.8 L570.1,207.4 L571.9,201.3 L573.6,200.0 L575.1,206.2 L576.8,223.4 L578.5,238.2 L580.0,250.5 L581.5,254.2 L582.9,251.7 L584.4,257.9 L585.9,245.5 L587.9,250.5 L589.8,257.9 L591.5,252.9 L592.8,240.6 L594.2,230.8 L595.7,227.8 L597.2,230.8 L598.7,243.1 L600.2,252.9 L601.6,260.3 L603.1,250.5 L604.6,243.1 L606.3,238.7 L608.0,238.2 L609.5,248.0 L610.5,252.9 L612.0,238.2 L613.7,227.1 L614.9,228.3 L616.1,233.2 L616.0,233.2 L616.0,368.8 Z" fill-rule="evenodd" fill="#416d20" transform="translate(-1.6,0.3)" filter="url(#b0)" opacity="0.62"/>
<path d="M-20,-20 H720 V780 H-20 Z M38,368.8 L37.6,334.5 L41.1,318.1 L43.3,329.0 L45.5,323.6 L47.0,325.7 L49.2,315.9 L50.7,317.0 L52.5,310.0 L54.7,322.5 L56.9,340.0 L59.5,354.2 L62.3,352.0 L65.6,346.5 L68.9,337.8 L71.1,331.2 L73.3,322.5 L75.5,307.2 L76.5,294.0 L79.8,279.8 L82.0,291.9 L84.2,305.0 L85.7,317.0 L87.5,313.7 L90.1,305.4 L91.4,309.3 L92.5,306.1 L94.0,320.3 L96.2,330.1 L98.0,322.5 L99.5,300.6 L101.3,271.1 L103.2,274.4 L104.5,272.2 L106.1,275.5 L107.2,282.0 L108.3,291.9 L109.3,272.6 L110.9,278.7 L112.0,291.9 L113.3,305.0 L114.8,315.9 L116.6,326.8 L119.2,324.7 L121.4,315.9 L123.1,298.4 L124.7,311.5 L126.4,326.8 L127.7,331.2 L128.6,315.9 L130.1,318.1 L131.6,302.8 L133.4,291.9 L135.1,294.0 L136.7,290.8 L138.9,285.3 L140.4,272.2 L142.1,244.8 L143.9,248.1 L145.4,267.8 L146.5,280.9 L148.3,286.4 L149.8,307.2 L151.3,322.5 L153.1,332.3 L154.8,309.3 L156.4,303.9 L158.5,302.3 L160.1,302.8 L161.4,318.1 L162.9,305.0 L164.4,288.6 L165.3,299.5 L166.9,300.6 L168.4,318.1 L169.9,313.7 L171.2,307.2 L172.8,326.8 L174.9,340.0 L175.0,339.0 L177.4,351.2 L180.5,349.7 L182.6,336.0 L184.1,321.3 L185.7,326.8 L187.2,345.1 L189.6,332.9 L191.8,308.5 L193.9,281.1 L195.7,265.9 L197.0,290.2 L198.8,332.9 L200.9,357.3 L202.4,364.9 L204.0,357.3 L205.5,360.4 L207.0,352.7 L208.5,357.3 L211.0,345.1 L213.1,332.9 L215.2,314.6 L217.7,287.2 L220.1,268.9 L222.3,255.2 L224.3,249.9 L226.2,242.6 L228.2,229.4 L229.6,225.4 L231.5,222.1 L232.2,202.9 L233.3,191.0 L234.2,193.7 L235.1,194.3 L235.9,209.6 L236.8,229.4 L237.8,238.0 L238.8,229.4 L240.1,202.9 L241.5,183.1 L243.1,171.2 L245.2,161.2 L246.5,169.9 L247.8,177.8 L248.9,182.4 L249.7,178.5 L250.5,174.9 L251.5,177.8 L252.6,180.7 L253.6,177.1 L254.4,174.2 L255.2,179.8 L256.0,184.7 L256.7,175.1 L257.4,165.6 L258.1,175.1 L259.2,185.7 L260.0,189.0 L260.8,183.1 L261.3,177.1 L262.1,189.7 L262.9,205.6 L263.7,221.5 L264.6,236.0 L265.6,247.9 L267.3,237.4 L268.6,226.8 L269.5,225.2 L270.6,234.7 L271.9,249.9 L272.6,262.8 L275.6,284.1 L278.7,302.4 L280.0,302.2 L282.6,298.2 L284.6,296.2 L286.6,290.9 L287.9,293.6 L289.3,295.6 L290.3,285.6 L291.5,260.5 L292.6,275.0 L293.9,288.3 L296.2,298.2 L297.5,283.0 L299.2,263.1 L300.9,244.6 L302.3,236.6 L303.6,240.6 L304.5,243.2 L305.2,263.1 L306.5,283.6 L307.8,269.7 L309.8,249.9 L311.4,234.6 L312.5,249.9 L313.8,269.7 L315.5,280.3 L316.4,304.2 L317.7,322.7 L318.7,328.7 L319.7,322.7 L321.1,296.2 L322.4,276.4 L323.7,256.5 L325.0,240.6 L326.1,234.5 L328.4,212.3 L330.0,201.1 L331.7,217.8 L333.9,234.5 L335.9,237.3 L337.8,241.5 L340.0,240.1 L342.8,238.7 L345.1,222.0 L346.2,245.7 L347.8,281.8 L349.0,298.5 L350.6,273.5 L352.6,245.7 L354.5,230.4 L356.2,227.6 L358.1,234.5 L360.1,244.3 L361.8,248.4 L363.7,247.1 L365.1,254.0 L366.5,262.4 L368.4,235.9 L369.5,259.6 L370.7,265.1 L372.1,262.4 L373.4,273.5 L374.8,298.5 L376.8,304.1 L379.0,309.7 L380.7,293.0 L382.3,295.8 L383.7,290.7 L385.1,301.3 L386.8,315.2 L387.9,318.0 L389.3,315.2 L390.7,329.1 L392.9,343.1 L395.1,362.5 L396.5,369.5 L397.9,373.7 L399.3,372.3 L400.7,376.5 L402.1,373.7 L403.5,379.2 L404.9,382.0 L406.3,391.8 L407.4,373.7 L408.2,368.1 L409.6,350.9 L411.0,358.4 L412.4,357.0 L413.8,366.7 L415.2,368.1 L416.6,365.3 L417.4,345.8 L418.5,329.1 L420.8,309.7 L423.0,288.8 L424.4,301.3 L425.8,312.4 L427.2,318.0 L428.5,304.1 L430.5,295.8 L431.9,297.1 L433.6,273.5 L434.7,293.0 L436.1,312.4 L437.4,318.0 L439.4,291.6 L440.8,306.9 L441.9,299.9 L443.0,323.6 L444.4,340.3 L445.2,345.8 L446.6,323.6 L448.0,312.4 L449.4,288.8 L450.5,309.7 L451.9,301.3 L453.3,273.5 L455.0,245.7 L456.9,217.8 L459.2,199.7 L460.8,203.9 L462.5,201.1 L465.0,195.6 L466.1,176.7 L467.8,175.4 L469.3,173.0 L471.0,171.0 L472.2,186.5 L473.5,191.4 L475.2,164.4 L476.2,184.0 L477.1,191.4 L478.4,189.0 L479.6,198.8 L481.6,191.4 L483.3,185.3 L485.0,190.2 L486.5,182.1 L487.7,189.0 L489.4,179.1 L490.7,186.5 L492.4,171.7 L494.4,153.3 L496.3,157.0 L498.1,158.2 L500.0,152.6 L501.7,169.3 L503.2,152.1 L504.7,136.1 L506.2,149.6 L507.9,171.7 L509.6,184.0 L511.1,179.6 L512.6,196.3 L514.0,203.7 L516.0,202.5 L517.7,196.8 L519.5,203.7 L520.9,208.6 L521.9,203.7 L523.4,209.9 L525.1,223.4 L526.8,230.8 L528.3,211.1 L530.0,195.1 L531.8,193.4 L533.2,196.3 L534.2,194.4 L535.7,211.1 L537.4,212.3 L539.1,222.2 L541.1,223.4 L543.1,212.3 L545.0,210.6 L546.5,223.4 L548.0,211.1 L549.7,205.7 L551.4,208.6 L552.9,205.0 L554.6,208.6 L556.4,209.9 L558.3,201.3 L560.3,195.1 L562.0,190.2 L564.5,187.7 L565.7,189.0 L567.2,185.3 L568.7,198.8 L570.1,207.4 L571.9,201.3 L573.6,200.0 L575.1,206.2 L576.8,223.4 L578.5,238.2 L580.0,250.5 L581.5,254.2 L582.9,251.7 L584.4,257.9 L585.9,245.5 L587.9,250.5 L589.8,257.9 L591.5,252.9 L592.8,240.6 L594.2,230.8 L595.7,227.8 L597.2,230.8 L598.7,243.1 L600.2,252.9 L601.6,260.3 L603.1,250.5 L604.6,243.1 L606.3,238.7 L608.0,238.2 L609.5,248.0 L610.5,252.9 L612.0,238.2 L613.7,227.1 L614.9,228.3 L616.1,233.2 L616.0,233.2 L616.0,368.8 Z" fill-rule="evenodd" fill="#c8f59a" transform="translate(1.3,0.6)" filter="url(#b0)" opacity="0.35"/>
<rect x="38" y="364.5" width="580" height="4" fill="#5f9634" opacity="0.22"/>
<g filter="url(#bh)">
<ellipse cx="571.0" cy="209.9" rx="3.0" ry="1.9" fill="#def8b0" opacity="0.85" transform="rotate(-25 571.0 209.9)"/>
<ellipse cx="541.9" cy="225.6" rx="3.0" ry="1.9" fill="#def8b0" opacity="0.85" transform="rotate(-25 541.9 225.6)"/>
<ellipse cx="538.0" cy="216.0" rx="3.0" ry="1.9" fill="#def8b0" opacity="0.85" transform="rotate(-25 538.0 216.0)"/>
<ellipse cx="590.6" cy="260.1" rx="3.0" ry="1.9" fill="#def8b0" opacity="0.85" transform="rotate(-25 590.6 260.1)"/>
<ellipse cx="514.8" cy="208.6" rx="3.0" ry="1.9" fill="#def8b0" opacity="0.85" transform="rotate(-25 514.8 208.6)"/>
<ellipse cx="463.8" cy="202.2" rx="3.0" ry="1.9" fill="#def8b0" opacity="0.85" transform="rotate(-25 463.8 202.2)"/>
<ellipse cx="459.3" cy="207.4" rx="3.0" ry="1.9" fill="#def8b0" opacity="0.85" transform="rotate(-25 459.3 207.4)"/>
<ellipse cx="498.6" cy="160.7" rx="3.0" ry="1.9" fill="#def8b0" opacity="0.85" transform="rotate(-25 498.6 160.7)"/>
<ellipse cx="338.3" cy="243.0" rx="3.0" ry="1.9" fill="#def8b0" opacity="0.85" transform="rotate(-25 338.3 243.0)"/>
<ellipse cx="338.8" cy="245.7" rx="3.0" ry="1.9" fill="#def8b0" opacity="0.85" transform="rotate(-25 338.8 245.7)"/>
<ellipse cx="319.5" cy="332.0" rx="3.0" ry="1.9" fill="#def8b0" opacity="0.85" transform="rotate(-25 319.5 332.0)"/>
<ellipse cx="378.6" cy="308.8" rx="3.0" ry="1.9" fill="#def8b0" opacity="0.85" transform="rotate(-25 378.6 308.8)"/>
<ellipse cx="388.8" cy="323.6" rx="3.0" ry="1.9" fill="#def8b0" opacity="0.85" transform="rotate(-25 388.8 323.6)"/>
<ellipse cx="451.2" cy="312.5" rx="3.0" ry="1.9" fill="#def8b0" opacity="0.85" transform="rotate(-25 451.2 312.5)"/>
<ellipse cx="228.6" cy="234.2" rx="3.0" ry="1.9" fill="#def8b0" opacity="0.85" transform="rotate(-25 228.6 234.2)"/>
<ellipse cx="226.2" cy="247.9" rx="3.0" ry="1.9" fill="#def8b0" opacity="0.85" transform="rotate(-25 226.2 247.9)"/>
<ellipse cx="210.8" cy="352.2" rx="3.0" ry="1.9" fill="#def8b0" opacity="0.85" transform="rotate(-25 210.8 352.2)"/>
<ellipse cx="279.5" cy="307.0" rx="3.0" ry="1.9" fill="#def8b0" opacity="0.85" transform="rotate(-25 279.5 307.0)"/>
<ellipse cx="282.6" cy="301.6" rx="3.0" ry="1.9" fill="#def8b0" opacity="0.85" transform="rotate(-25 282.6 301.6)"/>
<ellipse cx="61.2" cy="355.7" rx="3.0" ry="1.9" fill="#def8b0" opacity="0.85" transform="rotate(-25 61.2 355.7)"/>
<ellipse cx="68.8" cy="342.4" rx="3.0" ry="1.9" fill="#def8b0" opacity="0.85" transform="rotate(-25 68.8 342.4)"/>
<ellipse cx="72.2" cy="332.2" rx="3.0" ry="1.9" fill="#def8b0" opacity="0.85" transform="rotate(-25 72.2 332.2)"/>
<ellipse cx="97.2" cy="332.3" rx="3.0" ry="1.9" fill="#def8b0" opacity="0.85" transform="rotate(-25 97.2 332.3)"/>
<ellipse cx="115.8" cy="319.3" rx="3.0" ry="1.9" fill="#def8b0" opacity="0.85" transform="rotate(-25 115.8 319.3)"/>
<ellipse cx="117.8" cy="329.0" rx="3.0" ry="1.9" fill="#def8b0" opacity="0.85" transform="rotate(-25 117.8 329.0)"/>
<ellipse cx="154.0" cy="336.7" rx="3.0" ry="1.9" fill="#def8b0" opacity="0.85" transform="rotate(-25 154.0 336.7)"/>
<ellipse cx="169.5" cy="321.4" rx="3.0" ry="1.9" fill="#def8b0" opacity="0.85" transform="rotate(-25 169.5 321.4)"/>
<ellipse cx="44.8" cy="329.5" rx="3.0" ry="1.9" fill="#def8b0" opacity="0.85" transform="rotate(-25 44.8 329.5)"/>
</g>
</g>
<path d="M38,368.8 L37.6,334.5 L41.1,318.1 L43.3,329.0 L45.5,323.6 L47.0,325.7 L49.2,315.9 L50.7,317.0 L52.5,310.0 L54.7,322.5 L56.9,340.0 L59.5,354.2 L62.3,352.0 L65.6,346.5 L68.9,337.8 L71.1,331.2 L73.3,322.5 L75.5,307.2 L76.5,294.0 L79.8,279.8 L82.0,291.9 L84.2,305.0 L85.7,317.0 L87.5,313.7 L90.1,305.4 L91.4,309.3 L92.5,306.1 L94.0,320.3 L96.2,330.1 L98.0,322.5 L99.5,300.6 L101.3,271.1 L103.2,274.4 L104.5,272.2 L106.1,275.5 L107.2,282.0 L108.3,291.9 L109.3,272.6 L110.9,278.7 L112.0,291.9 L113.3,305.0 L114.8,315.9 L116.6,326.8 L119.2,324.7 L121.4,315.9 L123.1,298.4 L124.7,311.5 L126.4,326.8 L127.7,331.2 L128.6,315.9 L130.1,318.1 L131.6,302.8 L133.4,291.9 L135.1,294.0 L136.7,290.8 L138.9,285.3 L140.4,272.2 L142.1,244.8 L143.9,248.1 L145.4,267.8 L146.5,280.9 L148.3,286.4 L149.8,307.2 L151.3,322.5 L153.1,332.3 L154.8,309.3 L156.4,303.9 L158.5,302.3 L160.1,302.8 L161.4,318.1 L162.9,305.0 L164.4,288.6 L165.3,299.5 L166.9,300.6 L168.4,318.1 L169.9,313.7 L171.2,307.2 L172.8,326.8 L174.9,340.0 L175.0,339.0 L177.4,351.2 L180.5,349.7 L182.6,336.0 L184.1,321.3 L185.7,326.8 L187.2,345.1 L189.6,332.9 L191.8,308.5 L193.9,281.1 L195.7,265.9 L197.0,290.2 L198.8,332.9 L200.9,357.3 L202.4,364.9 L204.0,357.3 L205.5,360.4 L207.0,352.7 L208.5,357.3 L211.0,345.1 L213.1,332.9 L215.2,314.6 L217.7,287.2 L220.1,268.9 L222.3,255.2 L224.3,249.9 L226.2,242.6 L228.2,229.4 L229.6,225.4 L231.5,222.1 L232.2,202.9 L233.3,191.0 L234.2,193.7 L235.1,194.3 L235.9,209.6 L236.8,229.4 L237.8,238.0 L238.8,229.4 L240.1,202.9 L241.5,183.1 L243.1,171.2 L245.2,161.2 L246.5,169.9 L247.8,177.8 L248.9,182.4 L249.7,178.5 L250.5,174.9 L251.5,177.8 L252.6,180.7 L253.6,177.1 L254.4,174.2 L255.2,179.8 L256.0,184.7 L256.7,175.1 L257.4,165.6 L258.1,175.1 L259.2,185.7 L260.0,189.0 L260.8,183.1 L261.3,177.1 L262.1,189.7 L262.9,205.6 L263.7,221.5 L264.6,236.0 L265.6,247.9 L267.3,237.4 L268.6,226.8 L269.5,225.2 L270.6,234.7 L271.9,249.9 L272.6,262.8 L275.6,284.1 L278.7,302.4 L280.0,302.2 L282.6,298.2 L284.6,296.2 L286.6,290.9 L287.9,293.6 L289.3,295.6 L290.3,285.6 L291.5,260.5 L292.6,275.0 L293.9,288.3 L296.2,298.2 L297.5,283.0 L299.2,263.1 L300.9,244.6 L302.3,236.6 L303.6,240.6 L304.5,243.2 L305.2,263.1 L306.5,283.6 L307.8,269.7 L309.8,249.9 L311.4,234.6 L312.5,249.9 L313.8,269.7 L315.5,280.3 L316.4,304.2 L317.7,322.7 L318.7,328.7 L319.7,322.7 L321.1,296.2 L322.4,276.4 L323.7,256.5 L325.0,240.6 L326.1,234.5 L328.4,212.3 L330.0,201.1 L331.7,217.8 L333.9,234.5 L335.9,237.3 L337.8,241.5 L340.0,240.1 L342.8,238.7 L345.1,222.0 L346.2,245.7 L347.8,281.8 L349.0,298.5 L350.6,273.5 L352.6,245.7 L354.5,230.4 L356.2,227.6 L358.1,234.5 L360.1,244.3 L361.8,248.4 L363.7,247.1 L365.1,254.0 L366.5,262.4 L368.4,235.9 L369.5,259.6 L370.7,265.1 L372.1,262.4 L373.4,273.5 L374.8,298.5 L376.8,304.1 L379.0,309.7 L380.7,293.0 L382.3,295.8 L383.7,290.7 L385.1,301.3 L386.8,315.2 L387.9,318.0 L389.3,315.2 L390.7,329.1 L392.9,343.1 L395.1,362.5 L396.5,369.5 L397.9,373.7 L399.3,372.3 L400.7,376.5 L402.1,373.7 L403.5,379.2 L404.9,382.0 L406.3,391.8 L407.4,373.7 L408.2,368.1 L409.6,350.9 L411.0,358.4 L412.4,357.0 L413.8,366.7 L415.2,368.1 L416.6,365.3 L417.4,345.8 L418.5,329.1 L420.8,309.7 L423.0,288.8 L424.4,301.3 L425.8,312.4 L427.2,318.0 L428.5,304.1 L430.5,295.8 L431.9,297.1 L433.6,273.5 L434.7,293.0 L436.1,312.4 L437.4,318.0 L439.4,291.6 L440.8,306.9 L441.9,299.9 L443.0,323.6 L444.4,340.3 L445.2,345.8 L446.6,323.6 L448.0,312.4 L449.4,288.8 L450.5,309.7 L451.9,301.3 L453.3,273.5 L455.0,245.7 L456.9,217.8 L459.2,199.7 L460.8,203.9 L462.5,201.1 L465.0,195.6 L466.1,176.7 L467.8,175.4 L469.3,173.0 L471.0,171.0 L472.2,186.5 L473.5,191.4 L475.2,164.4 L476.2,184.0 L477.1,191.4 L478.4,189.0 L479.6,198.8 L481.6,191.4 L483.3,185.3 L485.0,190.2 L486.5,182.1 L487.7,189.0 L489.4,179.1 L490.7,186.5 L492.4,171.7 L494.4,153.3 L496.3,157.0 L498.1,158.2 L500.0,152.6 L501.7,169.3 L503.2,152.1 L504.7,136.1 L506.2,149.6 L507.9,171.7 L509.6,184.0 L511.1,179.6 L512.6,196.3 L514.0,203.7 L516.0,202.5 L517.7,196.8 L519.5,203.7 L520.9,208.6 L521.9,203.7 L523.4,209.9 L525.1,223.4 L526.8,230.8 L528.3,211.1 L530.0,195.1 L531.8,193.4 L533.2,196.3 L534.2,194.4 L535.7,211.1 L537.4,212.3 L539.1,222.2 L541.1,223.4 L543.1,212.3 L545.0,210.6 L546.5,223.4 L548.0,211.1 L549.7,205.7 L551.4,208.6 L552.9,205.0 L554.6,208.6 L556.4,209.9 L558.3,201.3 L560.3,195.1 L562.0,190.2 L564.5,187.7 L565.7,189.0 L567.2,185.3 L568.7,198.8 L570.1,207.4 L571.9,201.3 L573.6,200.0 L575.1,206.2 L576.8,223.4 L578.5,238.2 L580.0,250.5 L581.5,254.2 L582.9,251.7 L584.4,257.9 L585.9,245.5 L587.9,250.5 L589.8,257.9 L591.5,252.9 L592.8,240.6 L594.2,230.8 L595.7,227.8 L597.2,230.8 L598.7,243.1 L600.2,252.9 L601.6,260.3 L603.1,250.5 L604.6,243.1 L606.3,238.7 L608.0,238.2 L609.5,248.0 L610.5,252.9 L612.0,238.2 L613.7,227.1 L614.9,228.3 L616.1,233.2 L616.0,233.2 L616.0,368.8 Z" fill="none" stroke="#4a7727" stroke-width="0.7" opacity="0.85"/>
<rect x="38" y="368" width="579.5" height="3.8" fill="#8a8a8a"/>
<line x1="37.9" x2="37.9" y1="371.5" y2="374.3" stroke="#8a8a8a" stroke-width="1"/>
<line x1="47.7" x2="47.7" y1="371.5" y2="374.3" stroke="#8a8a8a" stroke-width="1"/>
<line x1="57.6" x2="57.6" y1="371.5" y2="374.3" stroke="#8a8a8a" stroke-width="1"/>
<line x1="67.4" x2="67.4" y1="371.5" y2="374.3" stroke="#8a8a8a" stroke-width="1"/>
<line x1="77.3" x2="77.3" y1="371.5" y2="374.3" stroke="#8a8a8a" stroke-width="1"/>
<line x1="87.1" x2="87.1" y1="371.5" y2="374.3" stroke="#8a8a8a" stroke-width="1"/>
<line x1="96.9" x2="96.9" y1="371.5" y2="374.3" stroke="#8a8a8a" stroke-width="1"/>
<line x1="106.8" x2="106.8" y1="371.5" y2="374.3" stroke="#8a8a8a" stroke-width="1"/>
<line x1="116.6" x2="116.6" y1="371.5" y2="374.3" stroke="#8a8a8a" stroke-width="1"/>
<line x1="126.5" x2="126.5" y1="371.5" y2="374.3" stroke="#8a8a8a" stroke-width="1"/>
<line x1="136.3" x2="136.3" y1="371.5" y2="374.3" stroke="#8a8a8a" stroke-width="1"/>
<line x1="146.1" x2="146.1" y1="371.5" y2="374.3" stroke="#8a8a8a" stroke-width="1"/>
<line x1="156.0" x2="156.0" y1="371.5" y2="374.3" stroke="#8a8a8a" stroke-width="1"/>
<line x1="165.8" x2="165.8" y1="371.5" y2="374.3" stroke="#8a8a8a" stroke-width="1"/>
<line x1="175.7" x2="175.7" y1="371.5" y2="374.3" stroke="#8a8a8a" stroke-width="1"/>
<line x1="185.5" x2="185.5" y1="371.5" y2="374.3" stroke="#8a8a8a" stroke-width="1"/>
<line x1="195.3" x2="195.3" y1="371.5" y2="374.3" stroke="#8a8a8a" stroke-width="1"/>
<line x1="205.2" x2="205.2" y1="371.5" y2="374.3" stroke="#8a8a8a" stroke-width="1"/>
<line x1="215.0" x2="215.0" y1="371.5" y2="374.3" stroke="#8a8a8a" stroke-width="1"/>
<line x1="224.9" x2="224.9" y1="371.5" y2="374.3" stroke="#8a8a8a" stroke-width="1"/>
<line x1="234.7" x2="234.7" y1="371.5" y2="374.3" stroke="#8a8a8a" stroke-width="1"/>
<line x1="244.5" x2="244.5" y1="371.5" y2="374.3" stroke="#8a8a8a" stroke-width="1"/>
<line x1="254.4" x2="254.4" y1="371.5" y2="374.3" stroke="#8a8a8a" stroke-width="1"/>
<line x1="264.2" x2="264.2" y1="371.5" y2="374.3" stroke="#8a8a8a" stroke-width="1"/>
<line x1="274.1" x2="274.1" y1="371.5" y2="374.3" stroke="#8a8a8a" stroke-width="1"/>
<line x1="283.9" x2="283.9" y1="371.5" y2="374.3" stroke="#8a8a8a" stroke-width="1"/>
<line x1="293.7" x2="293.7" y1="371.5" y2="374.3" stroke="#8a8a8a" stroke-width="1"/>
<line x1="303.6" x2="303.6" y1="371.5" y2="374.3" stroke="#8a8a8a" stroke-width="1"/>
<line x1="313.4" x2="313.4" y1="371.5" y2="374.3" stroke="#8a8a8a" stroke-width="1"/>
<line x1="323.3" x2="323.3" y1="371.5" y2="374.3" stroke="#8a8a8a" stroke-width="1"/>
<line x1="333.1" x2="333.1" y1="371.5" y2="374.3" stroke="#8a8a8a" stroke-width="1"/>
<line x1="342.9" x2="342.9" y1="371.5" y2="374.3" stroke="#8a8a8a" stroke-width="1"/>
<line x1="352.8" x2="352.8" y1="371.5" y2="374.3" stroke="#8a8a8a" stroke-width="1"/>
<line x1="362.6" x2="362.6" y1="371.5" y2="374.3" stroke="#8a8a8a" stroke-width="1"/>
<line x1="372.5" x2="372.5" y1="371.5" y2="374.3" stroke="#8a8a8a" stroke-width="1"/>
<line x1="382.3" x2="382.3" y1="371.5" y2="374.3" stroke="#8a8a8a" stroke-width="1"/>
<line x1="392.1" x2="392.1" y1="371.5" y2="374.3" stroke="#8a8a8a" stroke-width="1"/>
<line x1="402.0" x2="402.0" y1="371.5" y2="374.3" stroke="#8a8a8a" stroke-width="1"/>
<line x1="411.8" x2="411.8" y1="371.5" y2="374.3" stroke="#8a8a8a" stroke-width="1"/>
<line x1="421.7" x2="421.7" y1="371.5" y2="374.3" stroke="#8a8a8a" stroke-width="1"/>
<line x1="431.5" x2="431.5" y1="371.5" y2="374.3" stroke="#8a8a8a" stroke-width="1"/>
<line x1="441.3" x2="441.3" y1="371.5" y2="374.3" stroke="#8a8a8a" stroke-width="1"/>
<line x1="451.2" x2="451.2" y1="371.5" y2="374.3" stroke="#8a8a8a" stroke-width="1"/>
<line x1="461.0" x2="461.0" y1="371.5" y2="374.3" stroke="#8a8a8a" stroke-width="1"/>
<line x1="470.9" x2="470.9" y1="371.5" y2="374.3" stroke="#8a8a8a" stroke-width="1"/>
<line x1="480.7" x2="480.7" y1="371.5" y2="374.3" stroke="#8a8a8a" stroke-width="1"/>
<line x1="490.5" x2="490.5" y1="371.5" y2="374.3" stroke="#8a8a8a" stroke-width="1"/>
<line x1="500.4" x2="500.4" y1="371.5" y2="374.3" stroke="#8a8a8a" stroke-width="1"/>
<line x1="510.2" x2="510.2" y1="371.5" y2="374.3" stroke="#8a8a8a" stroke-width="1"/>
<line x1="520.1" x2="520.1" y1="371.5" y2="374.3" stroke="#8a8a8a" stroke-width="1"/>
<line x1="529.9" x2="529.9" y1="371.5" y2="374.3" stroke="#8a8a8a" stroke-width="1"/>
<line x1="539.7" x2="539.7" y1="371.5" y2="374.3" stroke="#8a8a8a" stroke-width="1"/>
<line x1="549.6" x2="549.6" y1="371.5" y2="374.3" stroke="#8a8a8a" stroke-width="1"/>
<line x1="559.4" x2="559.4" y1="371.5" y2="374.3" stroke="#8a8a8a" stroke-width="1"/>
<line x1="569.3" x2="569.3" y1="371.5" y2="374.3" stroke="#8a8a8a" stroke-width="1"/>
<line x1="579.1" x2="579.1" y1="371.5" y2="374.3" stroke="#8a8a8a" stroke-width="1"/>
<line x1="588.9" x2="588.9" y1="371.5" y2="374.3" stroke="#8a8a8a" stroke-width="1"/>
<line x1="598.8" x2="598.8" y1="371.5" y2="374.3" stroke="#8a8a8a" stroke-width="1"/>
<line x1="608.6" x2="608.6" y1="371.5" y2="374.3" stroke="#8a8a8a" stroke-width="1"/>

<line x1="617.5" x2="617.5" y1="117" y2="414.5" stroke="#7f7f7f" stroke-width="1"/>
<g class="ga">
<line x1="617.5" x2="622" y1="117.5" y2="117.5" stroke="#7f7f7f" stroke-width="1"/>
<text transform="translate(629.4,121.6) scale(1.105,1)" class="yl">380.000</text>
<line x1="617.5" x2="622" y1="150.5" y2="150.5" stroke="#7f7f7f" stroke-width="1"/>
<text transform="translate(629.4,154.6) scale(1.105,1)" class="yl">330.000</text>
<line x1="617.5" x2="622" y1="183.5" y2="183.5" stroke="#7f7f7f" stroke-width="1"/>
<text transform="translate(629.4,187.6) scale(1.105,1)" class="yl">280.000</text>
<line x1="617.5" x2="622" y1="216.5" y2="216.5" stroke="#7f7f7f" stroke-width="1"/>
<text transform="translate(629.4,220.6) scale(1.105,1)" class="yl">230.000</text>
<line x1="617.5" x2="622" y1="249.5" y2="249.5" stroke="#7f7f7f" stroke-width="1"/>
<text transform="translate(629.4,253.6) scale(1.105,1)" class="yl">180.000</text>
<line x1="617.5" x2="622" y1="282.5" y2="282.5" stroke="#7f7f7f" stroke-width="1"/>
<text transform="translate(629.4,286.6) scale(1.105,1)" class="yl">130.000</text>
<line x1="617.5" x2="622" y1="315.5" y2="315.5" stroke="#7f7f7f" stroke-width="1"/>
<text transform="translate(629.4,319.6) scale(1.105,1)" class="yl">80.000</text>
<line x1="617.5" x2="622" y1="348.5" y2="348.5" stroke="#7f7f7f" stroke-width="1"/>
<text transform="translate(629.4,352.6) scale(1.105,1)" class="yl">30.000</text>
<line x1="617.5" x2="622" y1="381.5" y2="381.5" stroke="#7f7f7f" stroke-width="1"/>
<text transform="translate(629.4,385.6) scale(1.115,1)" class="yl">-20.000</text>
<line x1="617.5" x2="622" y1="414.5" y2="414.5" stroke="#7f7f7f" stroke-width="1"/>
<text transform="translate(629.4,418.6) scale(1.115,1)" class="yl">-70.000</text>
</g>

<!-- logo -->
<g class="ga">
<rect x="109" y="134" width="104" height="65" fill="url(#glogo)"/>
<rect x="109" y="134" width="104" height="2" fill="#c9aa62"/>
<rect x="109" y="134" width="1.6" height="65" fill="#b8963f"/>
<rect x="109" y="194.3" width="104" height="4.7" fill="url(#glogob)"/>
<rect x="211.2" y="134" width="1.8" height="65" fill="#5e470e"/>
<path d="M136.2,155.9 C135.8,154 133.2,154.4 131.7,154.8 C128,155.7 124.6,157.9 122.2,160.4 C119.8,162.9 117,166.6 116,169.8 C115.300,172.100 116.500,174.200 118.800,174.400 C121.800,174.700 126.200,171.700 129.900,168.800 L127.100,179.700" fill="none" stroke="#fff" stroke-width="2.5" stroke-linecap="round" stroke-linejoin="round"/>
<text x="130.4" y="172" font-size="11.8" font-weight="bold" font-style="italic" fill="#fff" textLength="76" lengthAdjust="spacingAndGlyphs">oldreporter.de</text>
</g>
<text x="271" y="160.6" class="ct ga" style="font-size:21.6px" textLength="191" lengthAdjust="spacingAndGlyphs">Große Spekulanten</text>

<!-- x labels -->
<g class="ga">
<text transform="translate(44.60,466.6) rotate(-90)" class="xl">30.07.13</text>
<text transform="translate(56.53,466.6) rotate(-90)" class="xl">30.09.13</text>
<text transform="translate(68.46,466.6) rotate(-90)" class="xl">30.11.13</text>
<text transform="translate(80.39,466.6) rotate(-90)" class="xl">31.01.14</text>
<text transform="translate(92.32,466.6) rotate(-90)" class="xl">31.03.14</text>
<text transform="translate(104.25,466.6) rotate(-90)" class="xl">31.05.14</text>
<text transform="translate(116.18,466.6) rotate(-90)" class="xl">31.07.14</text>
<text transform="translate(128.11,466.6) rotate(-90)" class="xl">30.09.14</text>
<text transform="translate(140.04,466.6) rotate(-90)" class="xl">30.11.14</text>
<text transform="translate(151.97,466.6) rotate(-90)" class="xl">31.01.15</text>
<text transform="translate(163.90,466.6) rotate(-90)" class="xl">31.03.15</text>
<text transform="translate(175.83,466.6) rotate(-90)" class="xl">31.05.15</text>
<text transform="translate(187.76,466.6) rotate(-90)" class="xl">31.07.15</text>
<text transform="translate(199.69,466.6) rotate(-90)" class="xl">30.09.15</text>
<text transform="translate(211.62,466.6) rotate(-90)" class="xl">30.11.15</text>
<text transform="translate(223.55,466.6) rotate(-90)" class="xl">31.01.16</text>
<text transform="translate(235.48,466.6) rotate(-90)" class="xl">31.03.16</text>
<text transform="translate(247.41,466.6) rotate(-90)" class="xl">31.05.16</text>
<text transform="translate(259.34,466.6) rotate(-90)" class="xl">31.07.16</text>
<text transform="translate(271.27,466.6) rotate(-90)" class="xl">30.09.16</text>
<text transform="translate(283.20,466.6) rotate(-90)" class="xl">30.11.16</text>
<text transform="translate(295.13,466.6) rotate(-90)" class="xl">31.01.17</text>
<text transform="translate(307.06,466.6) rotate(-90)" class="xl">31.03.17</text>
<text transform="translate(318.99,466.6) rotate(-90)" class="xl">31.05.17</text>
<text transform="translate(330.92,466.6) rotate(-90)" class="xl">31.07.17</text>
<text transform="translate(342.85,466.6) rotate(-90)" class="xl">30.09.17</text>
<text transform="translate(354.78,466.6) rotate(-90)" class="xl">30.11.17</text>
<text transform="translate(366.71,466.6) rotate(-90)" class="xl">31.01.18</text>
<text transform="translate(378.64,466.6) rotate(-90)" class="xl">31.03.18</text>
<text transform="translate(390.57,466.6) rotate(-90)" class="xl">31.05.18</text>
<text transform="translate(402.50,466.6) rotate(-90)" class="xl">31.07.18</text>
<text transform="translate(414.43,466.6) rotate(-90)" class="xl">30.09.18</text>
<text transform="translate(426.36,466.6) rotate(-90)" class="xl">30.11.18</text>
<text transform="translate(438.29,466.6) rotate(-90)" class="xl">31.01.19</text>
<text transform="translate(450.22,466.6) rotate(-90)" class="xl">31.03.19</text>
<text transform="translate(462.15,466.6) rotate(-90)" class="xl">31.05.19</text>
<text transform="translate(474.08,466.6) rotate(-90)" class="xl">31.07.19</text>
<text transform="translate(486.01,466.6) rotate(-90)" class="xl">30.09.19</text>
<text transform="translate(497.94,466.6) rotate(-90)" class="xl">30.11.19</text>
<text transform="translate(509.87,466.6) rotate(-90)" class="xl">31.01.20</text>
<text transform="translate(521.80,466.6) rotate(-90)" class="xl">31.03.20</text>
<text transform="translate(533.73,466.6) rotate(-90)" class="xl">31.05.20</text>
<text transform="translate(545.66,466.6) rotate(-90)" class="xl">31.07.20</text>
<text transform="translate(557.59,466.6) rotate(-90)" class="xl">30.09.20</text>
<text transform="translate(569.52,466.6) rotate(-90)" class="xl">30.11.20</text>
<text transform="translate(581.45,466.6) rotate(-90)" class="xl">31.01.21</text>
<text transform="translate(593.38,466.6) rotate(-90)" class="xl">31.03.21</text>
<text transform="translate(605.31,466.6) rotate(-90)" class="xl">31.05.21</text>
<text transform="translate(617.24,466.6) rotate(-90)" class="xl">31.07.21</text>
</g>

<!-- bottom plot -->
<rect x="39" y="475.5" width="580.5" height="261" fill="#dfc7b5"/>
<line x1="39" x2="619" y1="533.5" y2="533.5" stroke="#dcdedf" stroke-width="1.2"/>
<line x1="39" x2="619" y1="562.5" y2="562.5" stroke="#dcdedf" stroke-width="1.2"/>
<line x1="39" x2="619" y1="591.5" y2="591.5" stroke="#dcdedf" stroke-width="1.2"/>
<line x1="39" x2="619" y1="620.5" y2="620.5" stroke="#dcdedf" stroke-width="1.2"/>
<line x1="39" x2="619" y1="649.5" y2="649.5" stroke="#dcdedf" stroke-width="1.2"/>
<line x1="39" x2="619" y1="678.5" y2="678.5" stroke="#dcdedf" stroke-width="1.2"/>
<line x1="39" x2="619" y1="707.5" y2="707.5" stroke="#dcdedf" stroke-width="1.2"/>

<path d="M39,504.5 L39.4,534.2 L41.1,539.7 L42.7,548.4 L44.2,556.1 L45.5,546.2 L46.6,541.9 L48.1,548.4 L49.9,544.0 L51.4,550.6 L52.9,552.8 L55.1,556.7 L56.9,548.4 L58.6,537.5 L60.1,524.4 L61.2,517.8 L62.8,511.2 L64.1,517.8 L65.6,520.0 L66.7,513.4 L67.8,510.1 L68.9,517.8 L71.1,526.5 L73.3,535.3 L75.5,544.0 L77.6,555.0 L79.4,572.5 L81.4,579.0 L83.1,587.3 L84.9,576.8 L86.4,565.9 L87.9,555.0 L89.7,550.6 L91.4,559.3 L92.9,565.5 L94.0,561.5 L95.3,563.7 L96.7,550.6 L98.0,541.9 L99.5,538.6 L100.6,546.2 L101.7,565.9 L103.2,587.8 L105.0,599.1 L107.2,595.4 L108.9,592.1 L110.4,581.2 L112.0,594.3 L113.3,585.6 L114.8,572.5 L116.3,559.3 L118.1,550.6 L120.3,539.7 L122.0,537.5 L123.6,546.2 L125.1,555.0 L126.4,562.6 L127.7,550.6 L129.0,537.5 L130.3,524.4 L131.2,513.4 L131.9,539.7 L132.7,544.0 L133.8,557.2 L135.1,570.3 L136.7,565.9 L137.8,568.1 L139.5,574.7 L141.0,590.0 L142.6,603.1 L143.9,616.2 L145.4,622.8 L147.0,607.4 L148.3,594.3 L149.8,581.2 L151.3,568.1 L153.1,552.8 L154.8,536.4 L155.9,537.5 L157.0,550.6 L158.5,563.7 L160.1,565.9 L161.4,563.7 L162.5,565.5 L163.6,548.4 L165.1,547.3 L166.2,568.1 L167.3,579.0 L168.4,565.9 L169.5,567.0 L170.6,550.6 L171.7,548.4 L172.8,560.4 L174.1,550.6 L175.0,533.7 L176.5,527.9 L177.9,519.1 L179.4,511.8 L180.8,507.5 L182.3,510.4 L183.7,519.1 L185.2,522.0 L186.7,542.4 L188.1,530.8 L189.0,513.3 L190.1,510.4 L191.9,527.9 L193.9,557.0 L196.0,583.2 L197.4,600.1 L198.9,577.4 L200.6,548.3 L202.1,522.0 L203.5,508.9 L205.0,505.1 L206.5,506.9 L207.9,513.3 L209.4,511.8 L210.8,517.7 L212.3,522.0 L213.7,527.9 L215.2,525.0 L216.7,536.6 L218.1,548.3 L219.6,571.6 L221.6,591.9 L223.6,609.4 L225.1,615.2 L226.8,621.1 L228.9,626.9 L230.9,635.6 L232.7,644.4 L234.1,653.1 L235.6,673.5 L237.0,664.8 L238.5,647.3 L239.7,629.8 L240.8,635.6 L242.0,653.1 L243.4,670.6 L244.9,682.2 L246.4,691.0 L247.8,699.1 L249.6,691.0 L251.3,685.1 L253.1,691.0 L254.8,682.2 L256.6,683.7 L258.3,679.3 L259.8,693.9 L261.2,682.2 L262.4,673.5 L263.8,685.1 L265.3,664.8 L266.7,641.5 L268.2,622.5 L269.7,632.7 L271.1,644.4 L272.6,629.8 L274.6,615.2 L276.9,600.7 L279.3,586.1 L281.6,574.5 L283.3,571.6 L285.1,574.5 L287.1,575.9 L289.2,578.8 L290.9,575.9 L292.4,589.0 L293.8,606.5 L295.3,591.9 L296.7,574.5 L298.2,577.4 L299.7,591.9 L301.7,606.5 L303.2,618.2 L304.6,626.9 L306.1,621.1 L307.5,600.7 L309.0,577.4 L310.4,589.0 L311.9,606.5 L313.3,618.2 L314.2,626.3 L315.0,623.1 L316.2,608.8 L317.4,584.9 L318.6,561.1 L319.8,545.6 L321.7,544.4 L322.9,551.5 L324.1,575.4 L325.7,599.2 L327.4,618.3 L329.3,637.4 L331.2,654.1 L332.4,660.8 L333.6,646.9 L335.3,637.4 L336.9,632.6 L338.8,627.9 L340.8,623.1 L342.4,625.5 L344.1,629.0 L346.0,637.4 L347.2,644.5 L348.4,623.1 L349.6,594.5 L350.8,575.4 L352.0,584.9 L353.2,604.0 L354.8,620.7 L356.3,632.6 L357.9,639.8 L359.6,632.6 L361.0,623.1 L362.2,615.9 L363.9,625.5 L365.6,618.3 L367.0,613.5 L368.7,604.0 L369.8,615.9 L371.3,632.6 L372.2,608.8 L373.4,606.4 L374.6,601.6 L376.5,589.7 L378.2,580.2 L379.9,573.0 L381.8,575.4 L383.7,582.5 L385.3,580.2 L386.5,565.9 L388.0,563.5 L389.4,558.7 L390.8,559.9 L392.0,551.5 L393.2,542.0 L394.9,527.7 L396.6,513.4 L397.8,506.2 L398.9,505.0 L400.4,505.8 L401.3,503.8 L402.5,501.9 L403.7,502.7 L405.1,501.5 L406.8,499.1 L408.0,494.3 L408.7,490.7 L409.7,499.1 L410.4,504.3 L411.1,518.2 L412.3,528.9 L413.5,520.5 L414.7,511.0 L415.6,505.0 L416.8,506.2 L418.0,513.4 L419.0,509.8 L419.9,515.8 L421.1,532.5 L422.8,549.2 L424.2,565.9 L425.9,584.9 L427.1,575.4 L428.3,563.5 L429.5,558.7 L430.7,561.1 L431.9,573.0 L433.0,575.4 L434.2,587.3 L435.9,599.2 L437.1,584.9 L438.3,570.6 L439.7,568.2 L440.9,575.4 L442.6,590.9 L443.8,575.4 L445.0,558.7 L446.2,546.8 L447.4,539.6 L448.5,544.4 L449.7,556.3 L450.9,561.1 L452.1,580.2 L453.3,568.2 L454.5,570.6 L455.7,584.9 L456.9,604.0 L458.0,626.4 L459.4,643.6 L461.2,665.8 L462.9,668.2 L464.3,665.8 L466.1,675.6 L467.8,690.4 L469.8,696.5 L471.7,699.0 L473.2,700.2 L474.7,678.1 L476.4,683.0 L477.9,703.2 L478.9,680.5 L480.3,683.0 L481.6,670.7 L483.3,675.6 L485.0,680.5 L486.5,685.5 L488.0,680.5 L489.4,687.9 L490.9,683.0 L491.9,690.4 L493.4,692.9 L494.9,702.7 L496.3,710.1 L497.6,715.5 L499.3,707.6 L500.8,710.1 L502.2,707.6 L503.5,699.0 L504.7,710.1 L505.9,719.9 L507.2,727.3 L508.4,712.5 L509.6,702.7 L511.1,692.9 L512.6,683.0 L514.0,678.1 L515.5,668.2 L517.0,665.8 L518.5,667.0 L519.9,671.9 L521.4,665.8 L522.9,668.2 L524.4,669.5 L525.9,658.4 L527.3,651.0 L528.8,646.1 L530.0,658.4 L531.3,668.2 L532.7,678.1 L534.2,679.3 L535.7,680.1 L537.2,668.2 L538.6,660.9 L540.1,658.4 L541.6,659.6 L543.1,658.4 L544.6,660.9 L546.0,667.0 L547.5,668.2 L548.7,658.4 L550.0,668.2 L551.4,670.7 L552.9,669.5 L554.4,673.2 L555.9,674.4 L557.3,669.5 L558.8,675.6 L560.3,671.9 L561.8,674.4 L563.2,678.1 L564.7,680.5 L566.2,684.2 L567.7,681.8 L569.2,688.4 L570.6,675.6 L572.1,671.9 L573.6,676.9 L575.1,675.6 L576.5,673.2 L578.0,658.4 L579.5,641.2 L581.0,626.4 L582.4,622.7 L583.9,620.3 L585.4,617.8 L586.9,625.2 L588.3,626.4 L589.8,625.2 L591.3,627.7 L592.8,624.0 L594.2,636.3 L595.7,638.7 L597.2,647.3 L598.7,648.6 L600.2,641.2 L601.6,631.3 L603.1,619.0 L604.1,617.8 L605.6,628.9 L607.0,633.8 L608.5,636.3 L610.0,638.2 L611.5,619.0 L612.5,617.8 L613.9,628.9 L615.4,641.2 L616.9,642.4 L617.9,633.8 L618.5,633.8 L618.5,504.5 Z" fill="url(#gred)"/>
<g clip-path="url(#cbot)">
<g filter="url(#bc)">
<rect x="46.4" y="521.6" width="1.3" height="21.3" fill="url(#crB)"/>
<rect x="49.7" y="526.8" width="1.3" height="18.2" fill="url(#crB)"/>
<rect x="89.5" y="529.2" width="1.3" height="22.3" fill="url(#crB)"/>
<rect x="93.8" y="527.5" width="1.3" height="35.0" fill="url(#crB)"/>
<rect x="99.3" y="513.0" width="1.3" height="26.6" fill="url(#crB)"/>
<rect x="110.2" y="562.6" width="1.3" height="19.6" fill="url(#crB)"/>
<rect x="121.8" y="513.0" width="1.3" height="25.5" fill="url(#crB)"/>
<rect x="136.5" y="558.9" width="1.3" height="8.0" fill="url(#crB)"/>
<rect x="154.6" y="513.0" width="1.3" height="24.4" fill="url(#crB)"/>
<rect x="161.2" y="541.8" width="1.3" height="22.9" fill="url(#crB)"/>
<rect x="164.9" y="520.4" width="1.3" height="27.9" fill="url(#crB)"/>
<rect x="171.5" y="531.4" width="1.3" height="18.0" fill="url(#crB)"/>
<rect x="239.5" y="595.8" width="1.3" height="35.0" fill="url(#crB)"/>
<rect x="251.1" y="672.9" width="1.3" height="13.2" fill="url(#crB)"/>
<rect x="254.6" y="665.7" width="1.3" height="17.5" fill="url(#crB)"/>
<rect x="258.1" y="658.4" width="1.3" height="21.9" fill="url(#crB)"/>
<rect x="262.2" y="657.1" width="1.3" height="17.4" fill="url(#crB)"/>
<rect x="268.0" y="590.7" width="1.3" height="32.8" fill="url(#crB)"/>
<rect x="283.1" y="537.6" width="1.3" height="35.0" fill="url(#crB)"/>
<rect x="290.7" y="541.9" width="1.3" height="35.0" fill="url(#crB)"/>
<rect x="296.5" y="540.5" width="1.3" height="35.0" fill="url(#crB)"/>
<rect x="308.8" y="543.4" width="1.3" height="35.0" fill="url(#crB)"/>
<rect x="321.5" y="513.0" width="1.3" height="32.4" fill="url(#crB)"/>
<rect x="340.6" y="592.0" width="1.3" height="32.1" fill="url(#crB)"/>
<rect x="350.6" y="541.4" width="1.3" height="35.0" fill="url(#crB)"/>
<rect x="362.0" y="591.8" width="1.3" height="25.1" fill="url(#crB)"/>
<rect x="368.5" y="570.0" width="1.3" height="35.0" fill="url(#crB)"/>
<rect x="379.7" y="559.8" width="1.3" height="14.2" fill="url(#crB)"/>
<rect x="429.3" y="524.7" width="1.3" height="35.0" fill="url(#crB)"/>
<rect x="439.5" y="535.2" width="1.3" height="34.0" fill="url(#crB)"/>
<rect x="447.2" y="513.0" width="1.3" height="27.6" fill="url(#crB)"/>
<rect x="453.1" y="551.2" width="1.3" height="18.0" fill="url(#crB)"/>
<rect x="474.5" y="646.0" width="1.3" height="33.2" fill="url(#crB)"/>
<rect x="478.7" y="670.4" width="1.3" height="11.1" fill="url(#crB)"/>
<rect x="481.4" y="638.4" width="1.3" height="33.3" fill="url(#crB)"/>
<rect x="487.8" y="647.4" width="1.3" height="34.1" fill="url(#crB)"/>
<rect x="490.7" y="676.0" width="1.3" height="8.0" fill="url(#crB)"/>
<rect x="499.1" y="696.8" width="1.3" height="11.8" fill="url(#crB)"/>
<rect x="503.3" y="675.2" width="1.3" height="24.8" fill="url(#crB)"/>
<rect x="516.8" y="657.6" width="1.3" height="9.2" fill="url(#crB)"/>
<rect x="521.2" y="648.3" width="1.3" height="18.5" fill="url(#crB)"/>
<rect x="528.6" y="612.1" width="1.3" height="35.0" fill="url(#crB)"/>
<rect x="539.9" y="640.9" width="1.3" height="18.5" fill="url(#crB)"/>
<rect x="542.9" y="637.2" width="1.3" height="22.2" fill="url(#crB)"/>
<rect x="548.5" y="644.7" width="1.3" height="14.7" fill="url(#crB)"/>
<rect x="557.1" y="662.5" width="1.3" height="8.0" fill="url(#crB)"/>
<rect x="571.9" y="664.9" width="1.3" height="8.0" fill="url(#crB)"/>
<rect x="585.2" y="583.8" width="1.3" height="35.0" fill="url(#crB)"/>
<rect x="589.6" y="591.2" width="1.3" height="35.0" fill="url(#crB)"/>
<rect x="603.9" y="583.8" width="1.3" height="35.0" fill="url(#crB)"/>
<rect x="612.3" y="588.2" width="1.3" height="30.6" fill="url(#crB)"/>
</g>
<rect x="613.5" y="504" width="6" height="240" fill="url(#redgeB)"/>
<path d="M-20,-20 H720 V780 H-20 Z M39,504.5 L39.4,534.2 L41.1,539.7 L42.7,548.4 L44.2,556.1 L45.5,546.2 L46.6,541.9 L48.1,548.4 L49.9,544.0 L51.4,550.6 L52.9,552.8 L55.1,556.7 L56.9,548.4 L58.6,537.5 L60.1,524.4 L61.2,517.8 L62.8,511.2 L64.1,517.8 L65.6,520.0 L66.7,513.4 L67.8,510.1 L68.9,517.8 L71.1,526.5 L73.3,535.3 L75.5,544.0 L77.6,555.0 L79.4,572.5 L81.4,579.0 L83.1,587.3 L84.9,576.8 L86.4,565.9 L87.9,555.0 L89.7,550.6 L91.4,559.3 L92.9,565.5 L94.0,561.5 L95.3,563.7 L96.7,550.6 L98.0,541.9 L99.5,538.6 L100.6,546.2 L101.7,565.9 L103.2,587.8 L105.0,599.1 L107.2,595.4 L108.9,592.1 L110.4,581.2 L112.0,594.3 L113.3,585.6 L114.8,572.5 L116.3,559.3 L118.1,550.6 L120.3,539.7 L122.0,537.5 L123.6,546.2 L125.1,555.0 L126.4,562.6 L127.7,550.6 L129.0,537.5 L130.3,524.4 L131.2,513.4 L131.9,539.7 L132.7,544.0 L133.8,557.2 L135.1,570.3 L136.7,565.9 L137.8,568.1 L139.5,574.7 L141.0,590.0 L142.6,603.1 L143.9,616.2 L145.4,622.8 L147.0,607.4 L148.3,594.3 L149.8,581.2 L151.3,568.1 L153.1,552.8 L154.8,536.4 L155.9,537.5 L157.0,550.6 L158.5,563.7 L160.1,565.9 L161.4,563.7 L162.5,565.5 L163.6,548.4 L165.1,547.3 L166.2,568.1 L167.3,579.0 L168.4,565.9 L169.5,567.0 L170.6,550.6 L171.7,548.4 L172.8,560.4 L174.1,550.6 L175.0,533.7 L176.5,527.9 L177.9,519.1 L179.4,511.8 L180.8,507.5 L182.3,510.4 L183.7,519.1 L185.2,522.0 L186.7,542.4 L188.1,530.8 L189.0,513.3 L190.1,510.4 L191.9,527.9 L193.9,557.0 L196.0,583.2 L197.4,600.1 L198.9,577.4 L200.6,548.3 L202.1,522.0 L203.5,508.9 L205.0,505.1 L206.5,506.9 L207.9,513.3 L209.4,511.8 L210.8,517.7 L212.3,522.0 L213.7,527.9 L215.2,525.0 L216.7,536.6 L218.1,548.3 L219.6,571.6 L221.6,591.9 L223.6,609.4 L225.1,615.2 L226.8,621.1 L228.9,626.9 L230.9,635.6 L232.7,644.4 L234.1,653.1 L235.6,673.5 L237.0,664.8 L238.5,647.3 L239.7,629.8 L240.8,635.6 L242.0,653.1 L243.4,670.6 L244.9,682.2 L246.4,691.0 L247.8,699.1 L249.6,691.0 L251.3,685.1 L253.1,691.0 L254.8,682.2 L256.6,683.7 L258.3,679.3 L259.8,693.9 L261.2,682.2 L262.4,673.5 L263.8,685.1 L265.3,664.8 L266.7,641.5 L268.2,622.5 L269.7,632.7 L271.1,644.4 L272.6,629.8 L274.6,615.2 L276.9,600.7 L279.3,586.1 L281.6,574.5 L283.3,571.6 L285.1,574.5 L287.1,575.9 L289.2,578.8 L290.9,575.9 L292.4,589.0 L293.8,606.5 L295.3,591.9 L296.7,574.5 L298.2,577.4 L299.7,591.9 L301.7,606.5 L303.2,618.2 L304.6,626.9 L306.1,621.1 L307.5,600.7 L309.0,577.4 L310.4,589.0 L311.9,606.5 L313.3,618.2 L314.2,626.3 L315.0,623.1 L316.2,608.8 L317.4,584.9 L318.6,561.1 L319.8,545.6 L321.7,544.4 L322.9,551.5 L324.1,575.4 L325.7,599.2 L327.4,618.3 L329.3,637.4 L331.2,654.1 L332.4,660.8 L333.6,646.9 L335.3,637.4 L336.9,632.6 L338.8,627.9 L340.8,623.1 L342.4,625.5 L344.1,629.0 L346.0,637.4 L347.2,644.5 L348.4,623.1 L349.6,594.5 L350.8,575.4 L352.0,584.9 L353.2,604.0 L354.8,620.7 L356.3,632.6 L357.9,639.8 L359.6,632.6 L361.0,623.1 L362.2,615.9 L363.9,625.5 L365.6,618.3 L367.0,613.5 L368.7,604.0 L369.8,615.9 L371.3,632.6 L372.2,608.8 L373.4,606.4 L374.6,601.6 L376.5,589.7 L378.2,580.2 L379.9,573.0 L381.8,575.4 L383.7,582.5 L385.3,580.2 L386.5,565.9 L388.0,563.5 L389.4,558.7 L390.8,559.9 L392.0,551.5 L393.2,542.0 L394.9,527.7 L396.6,513.4 L397.8,506.2 L398.9,505.0 L400.4,505.8 L401.3,503.8 L402.5,501.9 L403.7,502.7 L405.1,501.5 L406.8,499.1 L408.0,494.3 L408.7,490.7 L409.7,499.1 L410.4,504.3 L411.1,518.2 L412.3,528.9 L413.5,520.5 L414.7,511.0 L415.6,505.0 L416.8,506.2 L418.0,513.4 L419.0,509.8 L419.9,515.8 L421.1,532.5 L422.8,549.2 L424.2,565.9 L425.9,584.9 L427.1,575.4 L428.3,563.5 L429.5,558.7 L430.7,561.1 L431.9,573.0 L433.0,575.4 L434.2,587.3 L435.9,599.2 L437.1,584.9 L438.3,570.6 L439.7,568.2 L440.9,575.4 L442.6,590.9 L443.8,575.4 L445.0,558.7 L446.2,546.8 L447.4,539.6 L448.5,544.4 L449.7,556.3 L450.9,561.1 L452.1,580.2 L453.3,568.2 L454.5,570.6 L455.7,584.9 L456.9,604.0 L458.0,626.4 L459.4,643.6 L461.2,665.8 L462.9,668.2 L464.3,665.8 L466.1,675.6 L467.8,690.4 L469.8,696.5 L471.7,699.0 L473.2,700.2 L474.7,678.1 L476.4,683.0 L477.9,703.2 L478.9,680.5 L480.3,683.0 L481.6,670.7 L483.3,675.6 L485.0,680.5 L486.5,685.5 L488.0,680.5 L489.4,687.9 L490.9,683.0 L491.9,690.4 L493.4,692.9 L494.9,702.7 L496.3,710.1 L497.6,715.5 L499.3,707.6 L500.8,710.1 L502.2,707.6 L503.5,699.0 L504.7,710.1 L505.9,719.9 L507.2,727.3 L508.4,712.5 L509.6,702.7 L511.1,692.9 L512.6,683.0 L514.0,678.1 L515.5,668.2 L517.0,665.8 L518.5,667.0 L519.9,671.9 L521.4,665.8 L522.9,668.2 L524.4,669.5 L525.9,658.4 L527.3,651.0 L528.8,646.1 L530.0,658.4 L531.3,668.2 L532.7,678.1 L534.2,679.3 L535.7,680.1 L537.2,668.2 L538.6,660.9 L540.1,658.4 L541.6,659.6 L543.1,658.4 L544.6,660.9 L546.0,667.0 L547.5,668.2 L548.7,658.4 L550.0,668.2 L551.4,670.7 L552.9,669.5 L554.4,673.2 L555.9,674.4 L557.3,669.5 L558.8,675.6 L560.3,671.9 L561.8,674.4 L563.2,678.1 L564.7,680.5 L566.2,684.2 L567.7,681.8 L569.2,688.4 L570.6,675.6 L572.1,671.9 L573.6,676.9 L575.1,675.6 L576.5,673.2 L578.0,658.4 L579.5,641.2 L581.0,626.4 L582.4,622.7 L583.9,620.3 L585.4,617.8 L586.9,625.2 L588.3,626.4 L589.8,625.2 L591.3,627.7 L592.8,624.0 L594.2,636.3 L595.7,638.7 L597.2,647.3 L598.7,648.6 L600.2,641.2 L601.6,631.3 L603.1,619.0 L604.1,617.8 L605.6,628.9 L607.0,633.8 L608.5,636.3 L610.0,638.2 L611.5,619.0 L612.5,617.8 L613.9,628.9 L615.4,641.2 L616.9,642.4 L617.9,633.8 L618.5,633.8 L618.5,504.5 Z" fill-rule="evenodd" fill="#5a1414" transform="translate(-1.8,-1.2)" filter="url(#b1)" opacity="0.7"/>
<path d="M39,504.5 L39.4,534.2 L41.1,539.7 L42.7,548.4 L44.2,556.1 L45.5,546.2 L46.6,541.9 L48.1,548.4 L49.9,544.0 L51.4,550.6 L52.9,552.8 L55.1,556.7 L56.9,548.4 L58.6,537.5 L60.1,524.4 L61.2,517.8 L62.8,511.2 L64.1,517.8 L65.6,520.0 L66.7,513.4 L67.8,510.1 L68.9,517.8 L71.1,526.5 L73.3,535.3 L75.5,544.0 L77.6,555.0 L79.4,572.5 L81.4,579.0 L83.1,587.3 L84.9,576.8 L86.4,565.9 L87.9,555.0 L89.7,550.6 L91.4,559.3 L92.9,565.5 L94.0,561.5 L95.3,563.7 L96.7,550.6 L98.0,541.9 L99.5,538.6 L100.6,546.2 L101.7,565.9 L103.2,587.8 L105.0,599.1 L107.2,595.4 L108.9,592.1 L110.4,581.2 L112.0,594.3 L113.3,585.6 L114.8,572.5 L116.3,559.3 L118.1,550.6 L120.3,539.7 L122.0,537.5 L123.6,546.2 L125.1,555.0 L126.4,562.6 L127.7,550.6 L129.0,537.5 L130.3,524.4 L131.2,513.4 L131.9,539.7 L132.7,544.0 L133.8,557.2 L135.1,570.3 L136.7,565.9 L137.8,568.1 L139.5,574.7 L141.0,590.0 L142.6,603.1 L143.9,616.2 L145.4,622.8 L147.0,607.4 L148.3,594.3 L149.8,581.2 L151.3,568.1 L153.1,552.8 L154.8,536.4 L155.9,537.5 L157.0,550.6 L158.5,563.7 L160.1,565.9 L161.4,563.7 L162.5,565.5 L163.6,548.4 L165.1,547.3 L166.2,568.1 L167.3,579.0 L168.4,565.9 L169.5,567.0 L170.6,550.6 L171.7,548.4 L172.8,560.4 L174.1,550.6 L175.0,533.7 L176.5,527.9 L177.9,519.1 L179.4,511.8 L180.8,507.5 L182.3,510.4 L183.7,519.1 L185.2,522.0 L186.7,542.4 L188.1,530.8 L189.0,513.3 L190.1,510.4 L191.9,527.9 L193.9,557.0 L196.0,583.2 L197.4,600.1 L198.9,577.4 L200.6,548.3 L202.1,522.0 L203.5,508.9 L205.0,505.1 L206.5,506.9 L207.9,513.3 L209.4,511.8 L210.8,517.7 L212.3,522.0 L213.7,527.9 L215.2,525.0 L216.7,536.6 L218.1,548.3 L219.6,571.6 L221.6,591.9 L223.6,609.4 L225.1,615.2 L226.8,621.1 L228.9,626.9 L230.9,635.6 L232.7,644.4 L234.1,653.1 L235.6,673.5 L237.0,664.8 L238.5,647.3 L239.7,629.8 L240.8,635.6 L242.0,653.1 L243.4,670.6 L244.9,682.2 L246.4,691.0 L247.8,699.1 L249.6,691.0 L251.3,685.1 L253.1,691.0 L254.8,682.2 L256.6,683.7 L258.3,679.3 L259.8,693.9 L261.2,682.2 L262.4,673.5 L263.8,685.1 L265.3,664.8 L266.7,641.5 L268.2,622.5 L269.7,632.7 L271.1,644.4 L272.6,629.8 L274.6,615.2 L276.9,600.7 L279.3,586.1 L281.6,574.5 L283.3,571.6 L285.1,574.5 L287.1,575.9 L289.2,578.8 L290.9,575.9 L292.4,589.0 L293.8,606.5 L295.3,591.9 L296.7,574.5 L298.2,577.4 L299.7,591.9 L301.7,606.5 L303.2,618.2 L304.6,626.9 L306.1,621.1 L307.5,600.7 L309.0,577.4 L310.4,589.0 L311.9,606.5 L313.3,618.2 L314.2,626.3 L315.0,623.1 L316.2,608.8 L317.4,584.9 L318.6,561.1 L319.8,545.6 L321.7,544.4 L322.9,551.5 L324.1,575.4 L325.7,599.2 L327.4,618.3 L329.3,637.4 L331.2,654.1 L332.4,660.8 L333.6,646.9 L335.3,637.4 L336.9,632.6 L338.8,627.9 L340.8,623.1 L342.4,625.5 L344.1,629.0 L346.0,637.4 L347.2,644.5 L348.4,623.1 L349.6,594.5 L350.8,575.4 L352.0,584.9 L353.2,604.0 L354.8,620.7 L356.3,632.6 L357.9,639.8 L359.6,632.6 L361.0,623.1 L362.2,615.9 L363.9,625.5 L365.6,618.3 L367.0,613.5 L368.7,604.0 L369.8,615.9 L371.3,632.6 L372.2,608.8 L373.4,606.4 L374.6,601.6 L376.5,589.7 L378.2,580.2 L379.9,573.0 L381.8,575.4 L383.7,582.5 L385.3,580.2 L386.5,565.9 L388.0,563.5 L389.4,558.7 L390.8,559.9 L392.0,551.5 L393.2,542.0 L394.9,527.7 L396.6,513.4 L397.8,506.2 L398.9,505.0 L400.4,505.8 L401.3,503.8 L402.5,501.9 L403.7,502.7 L405.1,501.5 L406.8,499.1 L408.0,494.3 L408.7,490.7 L409.7,499.1 L410.4,504.3 L411.1,518.2 L412.3,528.9 L413.5,520.5 L414.7,511.0 L415.6,505.0 L416.8,506.2 L418.0,513.4 L419.0,509.8 L419.9,515.8 L421.1,532.5 L422.8,549.2 L424.2,565.9 L425.9,584.9 L427.1,575.4 L428.3,563.5 L429.5,558.7 L430.7,561.1 L431.9,573.0 L433.0,575.4 L434.2,587.3 L435.9,599.2 L437.1,584.9 L438.3,570.6 L439.7,568.2 L440.9,575.4 L442.6,590.9 L443.8,575.4 L445.0,558.7 L446.2,546.8 L447.4,539.6 L448.5,544.4 L449.7,556.3 L450.9,561.1 L452.1,580.2 L453.3,568.2 L454.5,570.6 L455.7,584.9 L456.9,604.0 L458.0,626.4 L459.4,643.6 L461.2,665.8 L462.9,668.2 L464.3,665.8 L466.1,675.6 L467.8,690.4 L469.8,696.5 L471.7,699.0 L473.2,700.2 L474.7,678.1 L476.4,683.0 L477.9,703.2 L478.9,680.5 L480.3,683.0 L481.6,670.7 L483.3,675.6 L485.0,680.5 L486.5,685.5 L488.0,680.5 L489.4,687.9 L490.9,683.0 L491.9,690.4 L493.4,692.9 L494.9,702.7 L496.3,710.1 L497.6,715.5 L499.3,707.6 L500.8,710.1 L502.2,707.6 L503.5,699.0 L504.7,710.1 L505.9,719.9 L507.2,727.3 L508.4,712.5 L509.6,702.7 L511.1,692.9 L512.6,683.0 L514.0,678.1 L515.5,668.2 L517.0,665.8 L518.5,667.0 L519.9,671.9 L521.4,665.8 L522.9,668.2 L524.4,669.5 L525.9,658.4 L527.3,651.0 L528.8,646.1 L530.0,658.4 L531.3,668.2 L532.7,678.1 L534.2,679.3 L535.7,680.1 L537.2,668.2 L538.6,660.9 L540.1,658.4 L541.6,659.6 L543.1,658.4 L544.6,660.9 L546.0,667.0 L547.5,668.2 L548.7,658.4 L550.0,668.2 L551.4,670.7 L552.9,669.5 L554.4,673.2 L555.9,674.4 L557.3,669.5 L558.8,675.6 L560.3,671.9 L561.8,674.4 L563.2,678.1 L564.7,680.5 L566.2,684.2 L567.7,681.8 L569.2,688.4 L570.6,675.6 L572.1,671.9 L573.6,676.9 L575.1,675.6 L576.5,673.2 L578.0,658.4 L579.5,641.2 L581.0,626.4 L582.4,622.7 L583.9,620.3 L585.4,617.8 L586.9,625.2 L588.3,626.4 L589.8,625.2 L591.3,627.7 L592.8,624.0 L594.2,636.3 L595.7,638.7 L597.2,647.3 L598.7,648.6 L600.2,641.2 L601.6,631.3 L603.1,619.0 L604.1,617.8 L605.6,628.9 L607.0,633.8 L608.5,636.3 L610.0,638.2 L611.5,619.0 L612.5,617.8 L613.9,628.9 L615.4,641.2 L616.9,642.4 L617.9,633.8 L618.5,633.8 L618.5,504.5 Z" fill="none" stroke="#6e1c1c" stroke-width="6" filter="url(#b2)" opacity="0.45"/>
<rect x="39" y="504.5" width="581" height="5.2" fill="url(#gredtop)"/>
<polygon points="39,504.5 44,509.7 39,509.7" fill="#c23a3a"/>
<polygon points="619.5,504.5 614,509.7 619.5,509.7" fill="#8e2828"/>
<line x1="51.4" x2="51.4" y1="505" y2="509.3" stroke="#a9a0a0" stroke-width="1" opacity="0.85"/>
<line x1="57.4" x2="57.4" y1="505" y2="509.3" stroke="#a9a0a0" stroke-width="1" opacity="0.85"/>
<line x1="63.4" x2="63.4" y1="505" y2="509.3" stroke="#a9a0a0" stroke-width="1" opacity="0.85"/>
<line x1="75.5" x2="75.5" y1="505" y2="509.3" stroke="#a9a0a0" stroke-width="1" opacity="0.85"/>
<line x1="87.5" x2="87.5" y1="505" y2="509.3" stroke="#a9a0a0" stroke-width="1" opacity="0.85"/>
<line x1="93.5" x2="93.5" y1="505" y2="509.3" stroke="#a9a0a0" stroke-width="1" opacity="0.85"/>
<line x1="99.6" x2="99.6" y1="505" y2="509.3" stroke="#a9a0a0" stroke-width="1" opacity="0.85"/>
<line x1="111.6" x2="111.6" y1="505" y2="509.3" stroke="#a9a0a0" stroke-width="1" opacity="0.85"/>
<line x1="123.6" x2="123.6" y1="505" y2="509.3" stroke="#a9a0a0" stroke-width="1" opacity="0.85"/>
<line x1="129.7" x2="129.7" y1="505" y2="509.3" stroke="#a9a0a0" stroke-width="1" opacity="0.85"/>
<line x1="135.7" x2="135.7" y1="505" y2="509.3" stroke="#a9a0a0" stroke-width="1" opacity="0.85"/>
<line x1="147.7" x2="147.7" y1="505" y2="509.3" stroke="#a9a0a0" stroke-width="1" opacity="0.85"/>
<line x1="159.8" x2="159.8" y1="505" y2="509.3" stroke="#a9a0a0" stroke-width="1" opacity="0.85"/>
<line x1="165.8" x2="165.8" y1="505" y2="509.3" stroke="#a9a0a0" stroke-width="1" opacity="0.85"/>
<line x1="171.8" x2="171.8" y1="505" y2="509.3" stroke="#a9a0a0" stroke-width="1" opacity="0.85"/>
<line x1="183.8" x2="183.8" y1="505" y2="509.3" stroke="#a9a0a0" stroke-width="1" opacity="0.85"/>
<line x1="195.9" x2="195.9" y1="505" y2="509.3" stroke="#a9a0a0" stroke-width="1" opacity="0.85"/>
<line x1="201.9" x2="201.9" y1="505" y2="509.3" stroke="#a9a0a0" stroke-width="1" opacity="0.85"/>
<line x1="207.9" x2="207.9" y1="505" y2="509.3" stroke="#a9a0a0" stroke-width="1" opacity="0.85"/>
<line x1="220.0" x2="220.0" y1="505" y2="509.3" stroke="#a9a0a0" stroke-width="1" opacity="0.85"/>
<line x1="232.0" x2="232.0" y1="505" y2="509.3" stroke="#a9a0a0" stroke-width="1" opacity="0.85"/>
<line x1="238.0" x2="238.0" y1="505" y2="509.3" stroke="#a9a0a0" stroke-width="1" opacity="0.85"/>
<line x1="244.0" x2="244.0" y1="505" y2="509.3" stroke="#a9a0a0" stroke-width="1" opacity="0.85"/>
<line x1="256.1" x2="256.1" y1="505" y2="509.3" stroke="#a9a0a0" stroke-width="1" opacity="0.85"/>
<line x1="268.1" x2="268.1" y1="505" y2="509.3" stroke="#a9a0a0" stroke-width="1" opacity="0.85"/>
<line x1="274.1" x2="274.1" y1="505" y2="509.3" stroke="#a9a0a0" stroke-width="1" opacity="0.85"/>
<line x1="280.2" x2="280.2" y1="505" y2="509.3" stroke="#a9a0a0" stroke-width="1" opacity="0.85"/>
<line x1="292.2" x2="292.2" y1="505" y2="509.3" stroke="#a9a0a0" stroke-width="1" opacity="0.85"/>
<line x1="304.2" x2="304.2" y1="505" y2="509.3" stroke="#a9a0a0" stroke-width="1" opacity="0.85"/>
<line x1="310.3" x2="310.3" y1="505" y2="509.3" stroke="#a9a0a0" stroke-width="1" opacity="0.85"/>
<line x1="316.3" x2="316.3" y1="505" y2="509.3" stroke="#a9a0a0" stroke-width="1" opacity="0.85"/>
<line x1="328.3" x2="328.3" y1="505" y2="509.3" stroke="#a9a0a0" stroke-width="1" opacity="0.85"/>
<line x1="340.4" x2="340.4" y1="505" y2="509.3" stroke="#a9a0a0" stroke-width="1" opacity="0.85"/>
<line x1="346.4" x2="346.4" y1="505" y2="509.3" stroke="#a9a0a0" stroke-width="1" opacity="0.85"/>
<line x1="352.4" x2="352.4" y1="505" y2="509.3" stroke="#a9a0a0" stroke-width="1" opacity="0.85"/>
<line x1="364.4" x2="364.4" y1="505" y2="509.3" stroke="#a9a0a0" stroke-width="1" opacity="0.85"/>
<line x1="376.5" x2="376.5" y1="505" y2="509.3" stroke="#a9a0a0" stroke-width="1" opacity="0.85"/>
<line x1="382.5" x2="382.5" y1="505" y2="509.3" stroke="#a9a0a0" stroke-width="1" opacity="0.85"/>
<line x1="388.5" x2="388.5" y1="505" y2="509.3" stroke="#a9a0a0" stroke-width="1" opacity="0.85"/>
<line x1="400.6" x2="400.6" y1="505" y2="509.3" stroke="#a9a0a0" stroke-width="1" opacity="0.85"/>
<line x1="412.6" x2="412.6" y1="505" y2="509.3" stroke="#a9a0a0" stroke-width="1" opacity="0.85"/>
<line x1="418.6" x2="418.6" y1="505" y2="509.3" stroke="#a9a0a0" stroke-width="1" opacity="0.85"/>
<line x1="424.6" x2="424.6" y1="505" y2="509.3" stroke="#a9a0a0" stroke-width="1" opacity="0.85"/>
<line x1="436.7" x2="436.7" y1="505" y2="509.3" stroke="#a9a0a0" stroke-width="1" opacity="0.85"/>
<line x1="448.7" x2="448.7" y1="505" y2="509.3" stroke="#a9a0a0" stroke-width="1" opacity="0.85"/>
<line x1="454.7" x2="454.7" y1="505" y2="509.3" stroke="#a9a0a0" stroke-width="1" opacity="0.85"/>
<line x1="460.8" x2="460.8" y1="505" y2="509.3" stroke="#a9a0a0" stroke-width="1" opacity="0.85"/>
<line x1="472.8" x2="472.8" y1="505" y2="509.3" stroke="#a9a0a0" stroke-width="1" opacity="0.85"/>
<line x1="484.8" x2="484.8" y1="505" y2="509.3" stroke="#a9a0a0" stroke-width="1" opacity="0.85"/>
<line x1="490.9" x2="490.9" y1="505" y2="509.3" stroke="#a9a0a0" stroke-width="1" opacity="0.85"/>
<line x1="496.9" x2="496.9" y1="505" y2="509.3" stroke="#a9a0a0" stroke-width="1" opacity="0.85"/>
<line x1="508.9" x2="508.9" y1="505" y2="509.3" stroke="#a9a0a0" stroke-width="1" opacity="0.85"/>
<line x1="521.0" x2="521.0" y1="505" y2="509.3" stroke="#a9a0a0" stroke-width="1" opacity="0.85"/>
<line x1="527.0" x2="527.0" y1="505" y2="509.3" stroke="#a9a0a0" stroke-width="1" opacity="0.85"/>
<line x1="533.0" x2="533.0" y1="505" y2="509.3" stroke="#a9a0a0" stroke-width="1" opacity="0.85"/>
<line x1="545.0" x2="545.0" y1="505" y2="509.3" stroke="#a9a0a0" stroke-width="1" opacity="0.85"/>
<line x1="557.1" x2="557.1" y1="505" y2="509.3" stroke="#a9a0a0" stroke-width="1" opacity="0.85"/>
<line x1="563.1" x2="563.1" y1="505" y2="509.3" stroke="#a9a0a0" stroke-width="1" opacity="0.85"/>
<line x1="569.1" x2="569.1" y1="505" y2="509.3" stroke="#a9a0a0" stroke-width="1" opacity="0.85"/>
<line x1="581.2" x2="581.2" y1="505" y2="509.3" stroke="#a9a0a0" stroke-width="1" opacity="0.85"/>
<line x1="593.2" x2="593.2" y1="505" y2="509.3" stroke="#a9a0a0" stroke-width="1" opacity="0.85"/>
<line x1="599.2" x2="599.2" y1="505" y2="509.3" stroke="#a9a0a0" stroke-width="1" opacity="0.85"/>
<line x1="605.2" x2="605.2" y1="505" y2="509.3" stroke="#a9a0a0" stroke-width="1" opacity="0.85"/>
<line x1="617.3" x2="617.3" y1="505" y2="509.3" stroke="#a9a0a0" stroke-width="1" opacity="0.85"/>

</g>
<path d="M39,504.5 L39.4,534.2 L41.1,539.7 L42.7,548.4 L44.2,556.1 L45.5,546.2 L46.6,541.9 L48.1,548.4 L49.9,544.0 L51.4,550.6 L52.9,552.8 L55.1,556.7 L56.9,548.4 L58.6,537.5 L60.1,524.4 L61.2,517.8 L62.8,511.2 L64.1,517.8 L65.6,520.0 L66.7,513.4 L67.8,510.1 L68.9,517.8 L71.1,526.5 L73.3,535.3 L75.5,544.0 L77.6,555.0 L79.4,572.5 L81.4,579.0 L83.1,587.3 L84.9,576.8 L86.4,565.9 L87.9,555.0 L89.7,550.6 L91.4,559.3 L92.9,565.5 L94.0,561.5 L95.3,563.7 L96.7,550.6 L98.0,541.9 L99.5,538.6 L100.6,546.2 L101.7,565.9 L103.2,587.8 L105.0,599.1 L107.2,595.4 L108.9,592.1 L110.4,581.2 L112.0,594.3 L113.3,585.6 L114.8,572.5 L116.3,559.3 L118.1,550.6 L120.3,539.7 L122.0,537.5 L123.6,546.2 L125.1,555.0 L126.4,562.6 L127.7,550.6 L129.0,537.5 L130.3,524.4 L131.2,513.4 L131.9,539.7 L132.7,544.0 L133.8,557.2 L135.1,570.3 L136.7,565.9 L137.8,568.1 L139.5,574.7 L141.0,590.0 L142.6,603.1 L143.9,616.2 L145.4,622.8 L147.0,607.4 L148.3,594.3 L149.8,581.2 L151.3,568.1 L153.1,552.8 L154.8,536.4 L155.9,537.5 L157.0,550.6 L158.5,563.7 L160.1,565.9 L161.4,563.7 L162.5,565.5 L163.6,548.4 L165.1,547.3 L166.2,568.1 L167.3,579.0 L168.4,565.9 L169.5,567.0 L170.6,550.6 L171.7,548.4 L172.8,560.4 L174.1,550.6 L175.0,533.7 L176.5,527.9 L177.9,519.1 L179.4,511.8 L180.8,507.5 L182.3,510.4 L183.7,519.1 L185.2,522.0 L186.7,542.4 L188.1,530.8 L189.0,513.3 L190.1,510.4 L191.9,527.9 L193.9,557.0 L196.0,583.2 L197.4,600.1 L198.9,577.4 L200.6,548.3 L202.1,522.0 L203.5,508.9 L205.0,505.1 L206.5,506.9 L207.9,513.3 L209.4,511.8 L210.8,517.7 L212.3,522.0 L213.7,527.9 L215.2,525.0 L216.7,536.6 L218.1,548.3 L219.6,571.6 L221.6,591.9 L223.6,609.4 L225.1,615.2 L226.8,621.1 L228.9,626.9 L230.9,635.6 L232.7,644.4 L234.1,653.1 L235.6,673.5 L237.0,664.8 L238.5,647.3 L239.7,629.8 L240.8,635.6 L242.0,653.1 L243.4,670.6 L244.9,682.2 L246.4,691.0 L247.8,699.1 L249.6,691.0 L251.3,685.1 L253.1,691.0 L254.8,682.2 L256.6,683.7 L258.3,679.3 L259.8,693.9 L261.2,682.2 L262.4,673.5 L263.8,685.1 L265.3,664.8 L266.7,641.5 L268.2,622.5 L269.7,632.7 L271.1,644.4 L272.6,629.8 L274.6,615.2 L276.9,600.7 L279.3,586.1 L281.6,574.5 L283.3,571.6 L285.1,574.5 L287.1,575.9 L289.2,578.8 L290.9,575.9 L292.4,589.0 L293.8,606.5 L295.3,591.9 L296.7,574.5 L298.2,577.4 L299.7,591.9 L301.7,606.5 L303.2,618.2 L304.6,626.9 L306.1,621.1 L307.5,600.7 L309.0,577.4 L310.4,589.0 L311.9,606.5 L313.3,618.2 L314.2,626.3 L315.0,623.1 L316.2,608.8 L317.4,584.9 L318.6,561.1 L319.8,545.6 L321.7,544.4 L322.9,551.5 L324.1,575.4 L325.7,599.2 L327.4,618.3 L329.3,637.4 L331.2,654.1 L332.4,660.8 L333.6,646.9 L335.3,637.4 L336.9,632.6 L338.8,627.9 L340.8,623.1 L342.4,625.5 L344.1,629.0 L346.0,637.4 L347.2,644.5 L348.4,623.1 L349.6,594.5 L350.8,575.4 L352.0,584.9 L353.2,604.0 L354.8,620.7 L356.3,632.6 L357.9,639.8 L359.6,632.6 L361.0,623.1 L362.2,615.9 L363.9,625.5 L365.6,618.3 L367.0,613.5 L368.7,604.0 L369.8,615.9 L371.3,632.6 L372.2,608.8 L373.4,606.4 L374.6,601.6 L376.5,589.7 L378.2,580.2 L379.9,573.0 L381.8,575.4 L383.7,582.5 L385.3,580.2 L386.5,565.9 L388.0,563.5 L389.4,558.7 L390.8,559.9 L392.0,551.5 L393.2,542.0 L394.9,527.7 L396.6,513.4 L397.8,506.2 L398.9,505.0 L400.4,505.8 L401.3,503.8 L402.5,501.9 L403.7,502.7 L405.1,501.5 L406.8,499.1 L408.0,494.3 L408.7,490.7 L409.7,499.1 L410.4,504.3 L411.1,518.2 L412.3,528.9 L413.5,520.5 L414.7,511.0 L415.6,505.0 L416.8,506.2 L418.0,513.4 L419.0,509.8 L419.9,515.8 L421.1,532.5 L422.8,549.2 L424.2,565.9 L425.9,584.9 L427.1,575.4 L428.3,563.5 L429.5,558.7 L430.7,561.1 L431.9,573.0 L433.0,575.4 L434.2,587.3 L435.9,599.2 L437.1,584.9 L438.3,570.6 L439.7,568.2 L440.9,575.4 L442.6,590.9 L443.8,575.4 L445.0,558.7 L446.2,546.8 L447.4,539.6 L448.5,544.4 L449.7,556.3 L450.9,561.1 L452.1,580.2 L453.3,568.2 L454.5,570.6 L455.7,584.9 L456.9,604.0 L458.0,626.4 L459.4,643.6 L461.2,665.8 L462.9,668.2 L464.3,665.8 L466.1,675.6 L467.8,690.4 L469.8,696.5 L471.7,699.0 L473.2,700.2 L474.7,678.1 L476.4,683.0 L477.9,703.2 L478.9,680.5 L480.3,683.0 L481.6,670.7 L483.3,675.6 L485.0,680.5 L486.5,685.5 L488.0,680.5 L489.4,687.9 L490.9,683.0 L491.9,690.4 L493.4,692.9 L494.9,702.7 L496.3,710.1 L497.6,715.5 L499.3,707.6 L500.8,710.1 L502.2,707.6 L503.5,699.0 L504.7,710.1 L505.9,719.9 L507.2,727.3 L508.4,712.5 L509.6,702.7 L511.1,692.9 L512.6,683.0 L514.0,678.1 L515.5,668.2 L517.0,665.8 L518.5,667.0 L519.9,671.9 L521.4,665.8 L522.9,668.2 L524.4,669.5 L525.9,658.4 L527.3,651.0 L528.8,646.1 L530.0,658.4 L531.3,668.2 L532.7,678.1 L534.2,679.3 L535.7,680.1 L537.2,668.2 L538.6,660.9 L540.1,658.4 L541.6,659.6 L543.1,658.4 L544.6,660.9 L546.0,667.0 L547.5,668.2 L548.7,658.4 L550.0,668.2 L551.4,670.7 L552.9,669.5 L554.4,673.2 L555.9,674.4 L557.3,669.5 L558.8,675.6 L560.3,671.9 L561.8,674.4 L563.2,678.1 L564.7,680.5 L566.2,684.2 L567.7,681.8 L569.2,688.4 L570.6,675.6 L572.1,671.9 L573.6,676.9 L575.1,675.6 L576.5,673.2 L578.0,658.4 L579.5,641.2 L581.0,626.4 L582.4,622.7 L583.9,620.3 L585.4,617.8 L586.9,625.2 L588.3,626.4 L589.8,625.2 L591.3,627.7 L592.8,624.0 L594.2,636.3 L595.7,638.7 L597.2,647.3 L598.7,648.6 L600.2,641.2 L601.6,631.3 L603.1,619.0 L604.1,617.8 L605.6,628.9 L607.0,633.8 L608.5,636.3 L610.0,638.2 L611.5,619.0 L612.5,617.8 L613.9,628.9 L615.4,641.2 L616.9,642.4 L617.9,633.8 L618.5,633.8 L618.5,504.5 Z" fill="none" stroke="#7a2020" stroke-width="0.6" opacity="0.7"/>
<line x1="39" x2="619.5" y1="504.5" y2="504.5" stroke="#8c8c8c" stroke-width="1"/>
<line x1="619.5" x2="619.5" y1="475.5" y2="737" stroke="#7f7f7f" stroke-width="1"/>
<g class="ga">
<line x1="619.5" x2="624" y1="475.5" y2="475.5" stroke="#7f7f7f" stroke-width="1"/>
<text transform="translate(631,479.8) scale(1.09,1)" class="yl">50.000</text>
<line x1="619.5" x2="624" y1="504.5" y2="504.5" stroke="#7f7f7f" stroke-width="1"/>
<text transform="translate(631,508.8) scale(1.09,1)" class="yl">0</text>
<line x1="619.5" x2="624" y1="533.5" y2="533.5" stroke="#7f7f7f" stroke-width="1"/>
<text transform="translate(631.4,537.8) scale(1.136,1)" class="yl">-50.000</text>
<line x1="619.5" x2="624" y1="562.5" y2="562.5" stroke="#7f7f7f" stroke-width="1"/>
<text transform="translate(631.4,566.8) scale(1.136,1)" class="yl">-100.000</text>
<line x1="619.5" x2="624" y1="591.5" y2="591.5" stroke="#7f7f7f" stroke-width="1"/>
<text transform="translate(631.4,595.8) scale(1.136,1)" class="yl">-150.000</text>
<line x1="619.5" x2="624" y1="620.5" y2="620.5" stroke="#7f7f7f" stroke-width="1"/>
<text transform="translate(631.4,624.8) scale(1.136,1)" class="yl">-200.000</text>
<line x1="619.5" x2="624" y1="649.5" y2="649.5" stroke="#7f7f7f" stroke-width="1"/>
<text transform="translate(631.4,653.8) scale(1.136,1)" class="yl">-250.000</text>
<line x1="619.5" x2="624" y1="678.5" y2="678.5" stroke="#7f7f7f" stroke-width="1"/>
<text transform="translate(631.4,682.8) scale(1.136,1)" class="yl">-300.000</text>
<line x1="619.5" x2="624" y1="707.5" y2="707.5" stroke="#7f7f7f" stroke-width="1"/>
<text transform="translate(631.4,711.8) scale(1.136,1)" class="yl">-350.000</text>
<line x1="619.5" x2="624" y1="736.5" y2="736.5" stroke="#7f7f7f" stroke-width="1"/>
<text transform="translate(631.4,740.8) scale(1.136,1)" class="yl">-400.000</text>
</g>
<text x="315.3" y="686.8" class="ct ga" style="font-size:22.4px" textLength="128.3" lengthAdjust="spacingAndGlyphs">Commercials</text>

<!-- side labels -->
<g class="ga">
<text transform="translate(12.1,256.3) rotate(90)" font-size="14" font-weight="bold" fill="#555" textLength="29.6" lengthAdjust="spacingAndGlyphs">Long</text>
<text transform="translate(9.3,565) rotate(90)" font-size="13.8" font-weight="bold" fill="#c00000" textLength="33" lengthAdjust="spacingAndGlyphs">Short</text>
</g>
</svg>
</body></html>
